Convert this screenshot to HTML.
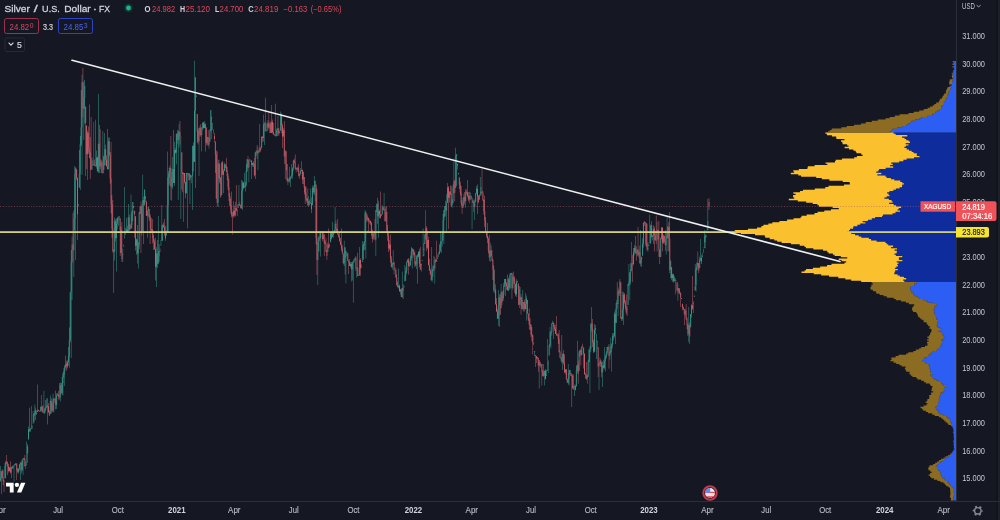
<!DOCTYPE html>
<html><head><meta charset="utf-8"><style>
*{margin:0;padding:0;box-sizing:border-box}
html,body{width:1000px;height:520px;overflow:hidden;background:#151823}
body{position:relative;font-family:"Liberation Sans",Arial,sans-serif}
svg{position:absolute;left:0;top:0}
</style></head><body>
<svg width="1000" height="520" viewBox="0 0 1000 520" font-family="&quot;Liberation Sans&quot;, Arial, sans-serif">
<rect x="996.3" y="0" width="1.6" height="520" fill="#111319"/>
<rect x="997.9" y="0" width="2.1" height="520" fill="#1d2029"/>
<rect x="956" y="0" width="1" height="501" fill="#2a2e39"/>
<rect x="0" y="501" width="1000" height="1" fill="#2a2e39"/>
<g opacity="0.9">
<path fill="#3aa596" d="M0.15 466.0h0.5V481.7h-0.5z M-0.10 477.9h1.0V480.7h-1.0z M1.06 470.7h0.5V494.0h-0.5z M0.81 471.3h1.0V477.9h-1.0z M4.69 463.0h0.5V478.5h-0.5z M4.44 465.9h1.0V478.5h-1.0z M5.59 460.9h0.5V478.0h-0.5z M5.34 461.5h1.0V465.9h-1.0z M9.22 466.7h0.5V471.4h-0.5z M8.97 467.4h1.0V471.1h-1.0z M11.03 467.2h0.5V478.0h-0.5z M10.78 468.2h1.0V472.5h-1.0z M11.94 465.7h0.5V469.0h-0.5z M11.69 466.2h1.0V468.2h-1.0z M12.85 465.9h0.5V468.6h-0.5z M12.60 465.9h1.0V466.5h-1.0z M13.76 465.0h0.5V481.5h-0.5z M13.51 465.0h1.0V465.9h-1.0z M14.66 464.1h0.5V465.1h-0.5z M14.41 464.1h1.0V465.0h-1.0z M15.57 463.0h0.5V465.4h-0.5z M15.32 463.2h1.0V464.1h-1.0z M18.29 468.1h0.5V474.1h-0.5z M18.04 468.9h1.0V471.7h-1.0z M19.20 463.9h0.5V471.3h-0.5z M18.95 464.4h1.0V468.9h-1.0z M20.10 462.5h0.5V480.0h-0.5z M19.85 462.5h1.0V464.4h-1.0z M21.92 459.7h0.5V471.3h-0.5z M21.67 459.7h1.0V470.0h-1.0z M22.82 458.2h0.5V475.0h-0.5z M22.57 458.2h1.0V459.7h-1.0z M25.55 461.3h0.5V469.0h-0.5z M25.30 464.5h1.0V465.9h-1.0z M26.45 441.5h0.5V463.9h-0.5z M26.20 463.9h1.0V464.5h-1.0z M27.36 444.0h0.5V463.0h-0.5z M27.11 446.2h1.0V453.5h-1.0z M28.27 426.4h0.5V439.5h-0.5z M28.02 429.3h1.0V439.5h-1.0z M30.08 427.7h0.5V432.0h-0.5z M29.83 429.5h1.0V430.1h-1.0z M30.99 406.0h0.5V428.3h-0.5z M30.74 428.3h1.0V428.9h-1.0z M31.90 425.5h0.5V429.0h-0.5z M31.65 425.6h1.0V426.2h-1.0z M32.80 411.0h0.5V422.9h-0.5z M32.55 422.9h1.0V423.5h-1.0z M33.71 413.6h0.5V423.0h-0.5z M33.46 413.8h1.0V421.6h-1.0z M34.62 404.6h0.5V415.7h-0.5z M34.37 410.4h1.0V413.8h-1.0z M36.43 410.3h0.5V414.8h-0.5z M36.18 413.2h1.0V413.9h-1.0z M37.34 384.6h0.5V412.1h-0.5z M37.09 410.3h1.0V412.1h-1.0z M39.15 410.8h0.5V410.8h-0.5z M38.90 410.8h1.0V411.4h-1.0z M40.06 406.4h0.5V410.8h-0.5z M39.81 410.8h1.0V411.4h-1.0z M40.96 395.0h0.5V410.8h-0.5z M40.71 406.7h1.0V410.8h-1.0z M43.69 390.8h0.5V413.5h-0.5z M43.44 412.7h1.0V413.3h-1.0z M44.59 407.8h0.5V413.8h-0.5z M44.34 409.7h1.0V412.7h-1.0z M45.50 400.1h0.5V410.8h-0.5z M45.25 407.3h1.0V409.7h-1.0z M46.41 398.5h0.5V408.0h-0.5z M46.16 405.6h1.0V407.3h-1.0z M50.04 395.4h0.5V413.7h-0.5z M49.79 400.7h1.0V413.7h-1.0z M52.76 393.8h0.5V412.3h-0.5z M52.51 399.5h1.0V410.6h-1.0z M53.66 398.2h0.5V412.3h-0.5z M53.41 398.6h1.0V399.5h-1.0z M56.38 393.2h0.5V409.0h-0.5z M56.13 395.2h1.0V405.0h-1.0z M57.29 392.9h0.5V395.7h-0.5z M57.04 394.4h1.0V395.2h-1.0z M60.01 382.4h0.5V401.5h-0.5z M59.76 385.2h1.0V397.1h-1.0z M61.83 377.0h0.5V395.0h-0.5z M61.58 383.1h1.0V393.2h-1.0z M62.73 372.4h0.5V395.4h-0.5z M62.48 374.3h1.0V383.1h-1.0z M63.64 367.7h0.5V377.4h-0.5z M63.39 370.9h1.0V374.3h-1.0z M64.55 365.0h0.5V386.0h-0.5z M64.30 366.3h1.0V370.9h-1.0z M65.45 355.4h0.5V368.2h-0.5z M65.20 363.7h1.0V366.3h-1.0z M67.27 360.2h0.5V368.4h-0.5z M67.02 361.9h1.0V366.4h-1.0z M68.18 347.0h0.5V365.6h-0.5z M67.93 355.9h1.0V361.9h-1.0z M69.08 327.5h0.5V367.7h-0.5z M68.83 340.1h1.0V355.9h-1.0z M69.99 292.0h0.5V342.2h-0.5z M69.74 292.0h1.0V340.1h-1.0z M70.90 250.0h0.5V358.0h-0.5z M70.65 261.8h1.0V292.0h-1.0z M71.80 236.4h0.5V300.0h-0.5z M71.55 244.6h1.0V261.8h-1.0z M73.62 210.5h0.5V277.0h-0.5z M73.37 218.7h1.0V250.3h-1.0z M74.52 166.0h0.5V230.3h-0.5z M74.27 174.2h1.0V218.7h-1.0z M75.43 167.4h0.5V260.0h-0.5z M75.18 167.4h1.0V174.2h-1.0z M78.15 203.8h0.5V204.9h-0.5z M77.90 204.9h1.0V205.5h-1.0z M79.06 150.0h0.5V187.7h-0.5z M78.81 173.5h1.0V187.7h-1.0z M79.97 136.1h0.5V190.0h-0.5z M79.72 144.3h1.0V173.5h-1.0z M80.87 90.0h0.5V146.0h-0.5z M80.62 127.6h1.0V144.3h-1.0z M81.78 74.7h0.5V175.0h-0.5z M81.53 82.3h1.0V127.6h-1.0z M83.59 81.8h0.5V140.0h-0.5z M83.34 98.0h1.0V108.8h-1.0z M84.50 80.0h0.5V123.7h-0.5z M84.25 85.8h1.0V98.0h-1.0z M87.22 130.5h0.5V180.0h-0.5z M86.97 132.7h1.0V154.3h-1.0z M91.76 157.3h0.5V170.0h-0.5z M91.51 167.6h1.0V168.2h-1.0z M92.66 160.4h0.5V165.4h-0.5z M92.41 165.4h1.0V166.0h-1.0z M93.57 122.0h0.5V164.5h-0.5z M93.32 164.5h1.0V165.1h-1.0z M95.39 119.7h0.5V166.2h-0.5z M95.14 165.9h1.0V166.5h-1.0z M96.29 150.5h0.5V168.4h-0.5z M96.04 157.4h1.0V165.9h-1.0z M98.11 94.0h0.5V173.0h-0.5z M97.86 143.8h1.0V171.6h-1.0z M100.83 159.5h0.5V173.0h-0.5z M100.58 162.2h1.0V166.5h-1.0z M102.64 131.0h0.5V173.0h-0.5z M102.39 173.0h1.0V173.6h-1.0z M103.55 155.6h0.5V173.0h-0.5z M103.30 157.0h1.0V169.8h-1.0z M104.46 133.0h0.5V165.5h-0.5z M104.21 149.2h1.0V157.0h-1.0z M108.08 137.6h0.5V169.5h-0.5z M107.83 141.2h1.0V169.2h-1.0z M114.43 217.5h0.5V260.6h-0.5z M114.18 221.0h1.0V251.7h-1.0z M116.25 218.5h0.5V271.5h-0.5z M116.00 223.4h1.0V238.1h-1.0z M117.15 217.6h0.5V229.5h-0.5z M116.90 217.6h1.0V223.4h-1.0z M118.06 216.7h0.5V225.7h-0.5z M117.81 216.7h1.0V217.6h-1.0z M118.97 216.0h0.5V220.4h-0.5z M118.72 216.5h1.0V217.1h-1.0z M122.60 248.8h0.5V262.0h-0.5z M122.35 254.3h1.0V254.9h-1.0z M123.50 244.4h0.5V246.0h-0.5z M123.25 246.0h1.0V246.6h-1.0z M124.41 187.0h0.5V237.7h-0.5z M124.16 237.7h1.0V238.3h-1.0z M125.32 227.5h0.5V234.6h-0.5z M125.07 234.0h1.0V234.6h-1.0z M126.22 217.7h0.5V233.1h-0.5z M125.97 229.5h1.0V233.1h-1.0z M128.04 204.0h0.5V231.2h-0.5z M127.79 217.2h1.0V231.2h-1.0z M130.76 194.6h0.5V228.5h-0.5z M130.51 224.9h1.0V228.5h-1.0z M131.67 210.9h0.5V228.5h-0.5z M131.42 213.4h1.0V224.9h-1.0z M132.57 202.1h0.5V221.1h-0.5z M132.32 202.1h1.0V213.4h-1.0z M133.48 205.9h0.5V208.0h-0.5z M133.23 205.9h1.0V206.5h-1.0z M136.20 238.7h0.5V254.7h-0.5z M135.95 239.6h1.0V245.7h-1.0z M138.01 242.3h0.5V268.5h-0.5z M137.76 245.7h1.0V253.6h-1.0z M138.92 212.0h0.5V249.1h-0.5z M138.67 212.7h1.0V245.7h-1.0z M139.83 206.2h0.5V214.1h-0.5z M139.58 206.2h1.0V212.7h-1.0z M142.55 174.6h0.5V232.4h-0.5z M142.30 200.1h1.0V231.7h-1.0z M144.36 189.4h0.5V205.7h-0.5z M144.11 189.6h1.0V204.5h-1.0z M147.08 210.5h0.5V237.7h-0.5z M146.83 211.2h1.0V215.7h-1.0z M147.99 206.7h0.5V217.6h-0.5z M147.74 206.7h1.0V211.2h-1.0z M156.15 247.2h0.5V287.0h-0.5z M155.90 253.5h1.0V266.7h-1.0z M157.97 216.0h0.5V264.3h-0.5z M157.72 256.3h1.0V263.8h-1.0z M158.88 244.2h0.5V262.0h-0.5z M158.62 250.9h1.0V256.3h-1.0z M160.69 239.9h0.5V244.8h-0.5z M160.44 244.8h1.0V245.4h-1.0z M161.60 205.0h0.5V240.8h-0.5z M161.35 225.4h1.0V240.8h-1.0z M162.50 224.6h0.5V240.8h-0.5z M162.25 224.7h1.0V225.4h-1.0z M166.13 230.5h0.5V235.5h-0.5z M165.88 233.3h1.0V235.5h-1.0z M167.04 151.5h0.5V232.7h-0.5z M166.79 205.3h1.0V232.7h-1.0z M167.95 170.9h0.5V231.5h-0.5z M167.70 177.6h1.0V205.3h-1.0z M168.85 167.6h0.5V184.7h-0.5z M168.60 173.6h1.0V177.6h-1.0z M169.76 165.4h0.5V186.1h-0.5z M169.51 167.9h1.0V173.6h-1.0z M171.57 171.8h0.5V200.8h-0.5z M171.32 177.5h1.0V186.7h-1.0z M172.48 157.1h0.5V188.7h-0.5z M172.23 169.0h1.0V177.5h-1.0z M174.29 142.1h0.5V186.1h-0.5z M174.04 150.0h1.0V183.0h-1.0z M176.11 133.6h0.5V164.3h-0.5z M175.86 133.7h1.0V152.8h-1.0z M177.92 130.6h0.5V200.0h-0.5z M177.67 139.4h1.0V140.0h-1.0z M178.83 123.8h0.5V147.6h-0.5z M178.58 131.7h1.0V139.4h-1.0z M180.64 136.5h0.5V219.0h-0.5z M180.39 136.5h1.0V137.1h-1.0z M183.36 173.0h0.5V222.0h-0.5z M183.11 173.0h1.0V174.2h-1.0z M186.09 173.0h0.5V193.3h-0.5z M185.84 173.0h1.0V193.2h-1.0z M186.99 173.0h0.5V228.5h-0.5z M186.74 173.0h1.0V173.6h-1.0z M187.90 173.0h0.5V176.4h-0.5z M187.65 173.0h1.0V173.6h-1.0z M189.71 174.0h0.5V204.0h-0.5z M189.46 174.0h1.0V180.0h-1.0z M190.62 174.9h0.5V177.8h-0.5z M190.37 174.9h1.0V175.5h-1.0z M191.53 175.8h0.5V183.3h-0.5z M191.28 175.8h1.0V176.4h-1.0z M192.43 145.7h0.5V210.0h-0.5z M192.18 145.7h1.0V175.8h-1.0z M194.25 60.8h0.5V161.9h-0.5z M194.00 110.7h1.0V161.8h-1.0z M195.16 77.2h0.5V188.0h-0.5z M194.91 77.2h1.0V110.7h-1.0z M196.06 95.6h0.5V97.0h-0.5z M195.81 95.6h1.0V96.2h-1.0z M198.78 127.9h0.5V176.0h-0.5z M198.53 127.9h1.0V141.4h-1.0z M201.50 127.0h0.5V151.5h-0.5z M201.25 128.8h1.0V135.1h-1.0z M202.41 122.6h0.5V129.8h-0.5z M202.16 122.6h1.0V128.8h-1.0z M204.23 121.0h0.5V128.3h-0.5z M203.98 124.3h1.0V127.9h-1.0z M206.95 136.7h0.5V144.6h-0.5z M206.70 136.9h1.0V142.7h-1.0z M208.76 137.5h0.5V148.5h-0.5z M208.51 141.6h1.0V144.5h-1.0z M209.67 129.2h0.5V141.7h-0.5z M209.42 130.4h1.0V141.6h-1.0z M210.57 110.0h0.5V131.3h-0.5z M210.32 110.2h1.0V130.4h-1.0z M211.48 116.7h0.5V139.0h-0.5z M211.23 116.7h1.0V117.3h-1.0z M212.39 123.2h0.5V129.9h-0.5z M212.14 123.2h1.0V123.8h-1.0z M213.30 129.7h0.5V133.6h-0.5z M213.05 129.7h1.0V130.3h-1.0z M217.83 159.7h0.5V207.0h-0.5z M217.58 163.2h1.0V202.7h-1.0z M221.46 162.2h0.5V195.0h-0.5z M221.21 162.2h1.0V195.0h-1.0z M223.27 169.3h0.5V193.0h-0.5z M223.02 171.1h1.0V174.8h-1.0z M224.18 162.5h0.5V171.3h-0.5z M223.93 164.5h1.0V171.1h-1.0z M233.25 201.2h0.5V217.8h-0.5z M233.00 211.1h1.0V215.8h-1.0z M235.06 201.8h0.5V216.5h-0.5z M234.81 208.1h1.0V215.2h-1.0z M237.78 204.1h0.5V207.9h-0.5z M237.53 204.4h1.0V207.9h-1.0z M238.69 185.0h0.5V204.2h-0.5z M238.44 204.2h1.0V204.8h-1.0z M241.41 180.0h0.5V209.0h-0.5z M241.16 190.8h1.0V208.2h-1.0z M242.32 180.7h0.5V210.0h-0.5z M242.07 182.4h1.0V190.8h-1.0z M244.13 173.0h0.5V187.8h-0.5z M243.88 187.1h1.0V187.8h-1.0z M245.04 181.7h0.5V191.5h-0.5z M244.79 184.7h1.0V187.1h-1.0z M245.95 164.2h0.5V186.6h-0.5z M245.70 170.8h1.0V184.7h-1.0z M246.85 159.3h0.5V172.0h-0.5z M246.60 159.3h1.0V170.8h-1.0z M248.67 160.2h0.5V182.0h-0.5z M248.42 160.5h1.0V167.4h-1.0z M249.58 159.3h0.5V160.5h-0.5z M249.33 159.3h1.0V160.5h-1.0z M250.48 160.7h0.5V161.7h-0.5z M250.23 160.7h1.0V161.3h-1.0z M252.30 163.0h0.5V166.7h-0.5z M252.05 163.1h1.0V165.1h-1.0z M255.02 152.3h0.5V179.0h-0.5z M254.77 152.3h1.0V175.2h-1.0z M255.92 149.7h0.5V156.2h-0.5z M255.67 151.2h1.0V152.3h-1.0z M257.74 147.0h0.5V170.0h-0.5z M257.49 150.7h1.0V153.4h-1.0z M259.55 124.0h0.5V152.4h-0.5z M259.30 148.0h1.0V151.6h-1.0z M261.37 136.4h0.5V148.0h-0.5z M261.12 136.8h1.0V148.0h-1.0z M263.18 114.6h0.5V141.4h-0.5z M262.93 124.6h1.0V137.9h-1.0z M264.09 121.7h0.5V145.0h-0.5z M263.84 123.6h1.0V124.6h-1.0z M265.90 130.4h0.5V130.7h-0.5z M265.65 130.7h1.0V131.3h-1.0z M266.81 122.5h0.5V131.6h-0.5z M266.56 123.3h1.0V130.7h-1.0z M269.53 122.4h0.5V133.0h-0.5z M269.28 123.4h1.0V127.4h-1.0z M271.34 105.0h0.5V133.0h-0.5z M271.09 121.9h1.0V132.9h-1.0z M275.88 130.3h0.5V136.0h-0.5z M275.63 136.0h1.0V136.6h-1.0z M276.78 128.2h0.5V136.0h-0.5z M276.53 128.6h1.0V136.0h-1.0z M279.51 131.3h0.5V132.5h-0.5z M279.26 132.5h1.0V133.1h-1.0z M280.41 111.5h0.5V130.7h-0.5z M280.16 114.8h1.0V130.7h-1.0z M283.13 128.1h0.5V136.7h-0.5z M282.88 130.1h1.0V136.5h-1.0z M284.95 149.9h0.5V179.0h-0.5z M284.70 151.3h1.0V156.4h-1.0z M288.58 178.4h0.5V182.3h-0.5z M288.33 179.7h1.0V181.0h-1.0z M289.48 167.0h0.5V182.7h-0.5z M289.23 176.9h1.0V179.7h-1.0z M290.39 176.6h0.5V187.0h-0.5z M290.14 176.6h1.0V177.2h-1.0z M291.30 164.0h0.5V178.6h-0.5z M291.05 175.3h1.0V176.6h-1.0z M292.20 167.4h0.5V179.0h-0.5z M291.95 168.5h1.0V175.3h-1.0z M293.11 159.7h0.5V170.9h-0.5z M292.86 160.5h1.0V168.5h-1.0z M296.74 167.4h0.5V170.2h-0.5z M296.49 167.7h1.0V169.3h-1.0z M299.46 173.3h0.5V179.0h-0.5z M299.21 173.7h1.0V175.9h-1.0z M300.37 168.0h0.5V174.3h-0.5z M300.12 171.1h1.0V173.7h-1.0z M301.27 161.0h0.5V171.2h-0.5z M301.02 169.9h1.0V171.1h-1.0z M303.09 171.7h0.5V184.0h-0.5z M302.84 171.7h1.0V179.4h-1.0z M308.53 195.9h0.5V207.0h-0.5z M308.28 201.5h1.0V205.3h-1.0z M310.34 188.5h0.5V203.7h-0.5z M310.09 203.2h1.0V203.8h-1.0z M312.16 185.5h0.5V205.3h-0.5z M311.91 187.9h1.0V205.3h-1.0z M313.97 176.0h0.5V195.1h-0.5z M313.72 186.5h1.0V192.2h-1.0z M314.88 180.7h0.5V201.4h-0.5z M314.63 180.7h1.0V186.5h-1.0z M317.60 241.5h0.5V285.0h-0.5z M317.35 251.4h1.0V260.0h-1.0z M318.51 236.1h0.5V251.5h-0.5z M318.26 237.6h1.0V251.4h-1.0z M320.32 231.5h0.5V256.5h-0.5z M320.07 231.5h1.0V238.3h-1.0z M321.23 231.5h0.5V231.7h-0.5z M320.98 231.5h1.0V232.1h-1.0z M323.04 231.5h0.5V239.4h-0.5z M322.79 235.1h1.0V239.0h-1.0z M327.58 242.5h0.5V252.1h-0.5z M327.33 244.4h1.0V252.1h-1.0z M329.39 243.3h0.5V247.0h-0.5z M329.14 245.0h1.0V245.6h-1.0z M330.30 231.9h0.5V242.2h-0.5z M330.05 233.2h1.0V242.2h-1.0z M332.11 222.0h0.5V237.0h-0.5z M331.86 232.2h1.0V237.0h-1.0z M333.93 230.1h0.5V233.2h-0.5z M333.68 233.2h1.0V233.8h-1.0z M334.83 207.0h0.5V231.6h-0.5z M334.58 223.8h1.0V231.6h-1.0z M343.90 240.8h0.5V265.9h-0.5z M343.65 258.3h1.0V263.2h-1.0z M344.81 247.3h0.5V274.6h-0.5z M344.56 247.3h1.0V258.3h-1.0z M345.72 250.7h0.5V283.5h-0.5z M345.47 250.7h1.0V251.3h-1.0z M346.62 252.0h0.5V256.5h-0.5z M346.37 252.0h1.0V252.6h-1.0z M350.25 262.0h0.5V267.4h-0.5z M350.00 264.1h1.0V266.0h-1.0z M352.07 262.0h0.5V280.5h-0.5z M351.82 262.0h1.0V269.3h-1.0z M352.97 260.8h0.5V302.7h-0.5z M352.72 260.8h1.0V262.0h-1.0z M353.88 259.2h0.5V263.1h-0.5z M353.63 259.2h1.0V260.8h-1.0z M354.79 257.7h0.5V260.3h-0.5z M354.54 257.7h1.0V259.2h-1.0z M356.60 267.3h0.5V277.7h-0.5z M356.35 267.8h1.0V268.4h-1.0z M358.41 274.8h0.5V275.8h-0.5z M358.16 275.0h1.0V275.8h-1.0z M359.32 247.0h0.5V275.8h-0.5z M359.07 260.0h1.0V275.0h-1.0z M361.14 264.5h0.5V267.0h-0.5z M360.89 267.0h1.0V267.6h-1.0z M362.04 241.0h0.5V261.3h-0.5z M361.79 261.3h1.0V261.9h-1.0z M362.95 243.7h0.5V260.0h-0.5z M362.70 245.4h1.0V259.6h-1.0z M363.86 241.2h0.5V250.2h-0.5z M363.61 242.0h1.0V245.4h-1.0z M364.76 210.0h0.5V250.1h-0.5z M364.51 212.9h1.0V242.0h-1.0z M365.67 211.8h0.5V258.5h-0.5z M365.42 211.8h1.0V212.9h-1.0z M367.49 216.0h0.5V221.3h-0.5z M367.24 218.1h1.0V219.6h-1.0z M369.30 219.6h0.5V223.7h-0.5z M369.05 220.9h1.0V221.5h-1.0z M372.93 233.4h0.5V239.8h-0.5z M372.68 233.9h1.0V238.8h-1.0z M373.83 231.1h0.5V236.2h-0.5z M373.58 232.2h1.0V233.9h-1.0z M375.65 210.1h0.5V256.0h-0.5z M375.40 210.1h1.0V239.5h-1.0z M376.56 203.8h0.5V212.3h-0.5z M376.31 203.8h1.0V210.1h-1.0z M378.37 200.7h0.5V237.7h-0.5z M378.12 210.9h1.0V216.4h-1.0z M381.09 213.9h0.5V216.0h-0.5z M380.84 215.5h1.0V216.1h-1.0z M382.00 205.3h0.5V214.6h-0.5z M381.75 207.2h1.0V214.6h-1.0z M383.81 193.0h0.5V210.3h-0.5z M383.56 209.3h1.0V209.9h-1.0z M385.62 207.2h0.5V221.3h-0.5z M385.38 212.1h1.0V220.9h-1.0z M389.25 239.7h0.5V250.2h-0.5z M389.00 244.5h1.0V248.4h-1.0z M391.97 262.9h0.5V269.4h-0.5z M391.72 263.9h1.0V267.0h-1.0z M392.88 250.0h0.5V264.8h-0.5z M392.63 262.3h1.0V263.9h-1.0z M394.69 269.5h0.5V270.7h-0.5z M394.44 269.7h1.0V270.3h-1.0z M398.32 268.5h0.5V288.4h-0.5z M398.07 285.8h1.0V287.2h-1.0z M400.14 289.1h0.5V294.2h-0.5z M399.89 289.6h1.0V291.4h-1.0z M401.95 271.5h0.5V297.8h-0.5z M401.70 288.0h1.0V296.9h-1.0z M403.76 285.4h0.5V286.8h-0.5z M403.51 286.8h1.0V287.4h-1.0z M404.67 265.0h0.5V281.3h-0.5z M404.42 275.4h1.0V281.3h-1.0z M405.58 267.2h0.5V280.8h-0.5z M405.33 271.0h1.0V275.4h-1.0z M406.49 261.5h0.5V273.3h-0.5z M406.24 261.5h1.0V271.0h-1.0z M407.39 259.0h0.5V262.5h-0.5z M407.14 259.7h1.0V261.5h-1.0z M409.21 261.4h0.5V267.0h-0.5z M408.96 264.9h1.0V265.8h-1.0z M410.11 255.7h0.5V266.1h-0.5z M409.86 258.1h1.0V264.9h-1.0z M411.02 247.0h0.5V260.7h-0.5z M410.77 251.6h1.0V258.1h-1.0z M411.93 248.2h0.5V268.5h-0.5z M411.68 248.2h1.0V251.6h-1.0z M416.46 255.4h0.5V269.0h-0.5z M416.21 255.4h1.0V264.5h-1.0z M418.28 251.4h0.5V257.8h-0.5z M418.03 251.4h1.0V256.6h-1.0z M421.00 263.6h0.5V271.5h-0.5z M420.75 264.1h1.0V265.1h-1.0z M421.90 260.1h0.5V260.4h-0.5z M421.65 260.4h1.0V261.0h-1.0z M422.81 228.5h0.5V255.6h-0.5z M422.56 255.6h1.0V256.2h-1.0z M423.72 243.1h0.5V256.0h-0.5z M423.47 248.7h1.0V249.9h-1.0z M424.63 233.8h0.5V244.1h-0.5z M424.38 235.1h1.0V244.1h-1.0z M425.53 210.0h0.5V239.5h-0.5z M425.28 227.9h1.0V235.1h-1.0z M427.35 231.5h0.5V249.2h-0.5z M427.10 240.0h1.0V247.8h-1.0z M431.88 268.8h0.5V281.9h-0.5z M431.63 270.9h1.0V280.1h-1.0z M432.79 264.8h0.5V276.6h-0.5z M432.54 265.9h1.0V270.9h-1.0z M434.60 257.2h0.5V283.8h-0.5z M434.35 260.4h1.0V268.5h-1.0z M435.51 258.7h0.5V262.6h-0.5z M435.26 260.1h1.0V260.7h-1.0z M437.32 254.6h0.5V259.0h-0.5z M437.07 257.9h1.0V258.5h-1.0z M438.23 252.6h0.5V256.0h-0.5z M437.98 256.0h1.0V256.6h-1.0z M439.14 244.6h0.5V254.2h-0.5z M438.89 250.8h1.0V254.2h-1.0z M440.05 231.5h0.5V252.0h-0.5z M439.80 243.5h1.0V250.8h-1.0z M440.95 241.2h0.5V253.0h-0.5z M440.70 241.7h1.0V243.5h-1.0z M441.86 232.5h0.5V246.5h-0.5z M441.61 234.0h1.0V241.7h-1.0z M442.77 214.0h0.5V240.6h-0.5z M442.52 220.2h1.0V234.0h-1.0z M443.67 209.9h0.5V244.0h-0.5z M443.42 209.9h1.0V220.2h-1.0z M444.58 205.9h0.5V216.7h-0.5z M444.33 205.9h1.0V209.9h-1.0z M446.39 194.3h0.5V231.5h-0.5z M446.14 202.7h1.0V210.7h-1.0z M447.30 183.0h0.5V203.0h-0.5z M447.05 187.5h1.0V202.7h-1.0z M449.12 191.2h0.5V202.4h-0.5z M448.87 191.6h1.0V197.7h-1.0z M451.84 199.3h0.5V207.7h-0.5z M451.59 202.9h1.0V205.0h-1.0z M452.74 184.5h0.5V203.2h-0.5z M452.49 187.8h1.0V202.9h-1.0z M453.65 158.5h0.5V193.4h-0.5z M453.40 180.9h1.0V187.8h-1.0z M455.46 147.7h0.5V188.0h-0.5z M455.21 155.7h1.0V188.0h-1.0z M456.37 154.2h0.5V186.0h-0.5z M456.12 154.2h1.0V155.7h-1.0z M458.19 173.1h0.5V174.6h-0.5z M457.94 173.1h1.0V173.7h-1.0z M462.72 197.5h0.5V208.0h-0.5z M462.47 204.8h1.0V207.7h-1.0z M463.63 193.7h0.5V205.7h-0.5z M463.38 197.0h1.0V204.8h-1.0z M465.44 189.0h0.5V207.7h-0.5z M465.19 191.7h1.0V201.3h-1.0z M469.07 191.7h0.5V203.4h-0.5z M468.82 196.6h1.0V199.5h-1.0z M469.98 192.5h0.5V200.2h-0.5z M469.73 196.3h1.0V196.9h-1.0z M471.79 197.8h0.5V229.0h-0.5z M471.54 197.8h1.0V198.4h-1.0z M474.51 199.4h0.5V220.0h-0.5z M474.26 201.4h1.0V207.1h-1.0z M475.42 192.9h0.5V202.3h-0.5z M475.17 192.9h1.0V201.4h-1.0z M476.32 186.0h0.5V194.3h-0.5z M476.07 188.7h1.0V192.9h-1.0z M479.05 194.5h0.5V199.8h-0.5z M478.80 195.7h1.0V199.8h-1.0z M479.95 177.0h0.5V195.1h-0.5z M479.70 195.1h1.0V195.7h-1.0z M480.86 186.9h0.5V195.4h-0.5z M480.61 191.8h1.0V193.8h-1.0z M489.93 243.0h0.5V262.0h-0.5z M489.68 250.6h1.0V257.5h-1.0z M494.46 270.0h0.5V293.3h-0.5z M494.21 289.5h1.0V290.1h-1.0z M498.09 290.0h0.5V325.8h-0.5z M497.84 305.7h1.0V318.8h-1.0z M499.00 294.5h0.5V327.0h-0.5z M498.75 297.5h1.0V305.7h-1.0z M500.81 284.0h0.5V308.2h-0.5z M500.56 291.9h1.0V308.2h-1.0z M502.63 290.4h0.5V301.0h-0.5z M502.38 294.7h1.0V301.0h-1.0z M503.53 283.1h0.5V298.4h-0.5z M503.28 285.4h1.0V294.7h-1.0z M504.44 278.9h0.5V287.0h-0.5z M504.19 278.9h1.0V285.4h-1.0z M508.07 277.7h0.5V291.3h-0.5z M507.82 279.2h1.0V290.6h-1.0z M509.88 273.3h0.5V288.8h-0.5z M509.63 273.3h1.0V287.8h-1.0z M510.79 272.9h0.5V274.9h-0.5z M510.54 272.9h1.0V273.5h-1.0z M512.61 274.6h0.5V289.7h-0.5z M512.36 277.2h1.0V287.9h-1.0z M516.23 279.2h0.5V296.9h-0.5z M515.98 281.9h1.0V294.3h-1.0z M517.14 280.8h0.5V282.5h-0.5z M516.89 281.6h1.0V282.2h-1.0z M519.86 287.0h0.5V305.4h-0.5z M519.61 296.8h1.0V304.8h-1.0z M522.58 290.0h0.5V310.0h-0.5z M522.33 302.2h1.0V308.7h-1.0z M523.49 301.9h0.5V311.5h-0.5z M523.24 302.0h1.0V302.6h-1.0z M525.30 293.0h0.5V309.6h-0.5z M525.05 303.8h1.0V309.0h-1.0z M526.21 295.4h0.5V320.8h-0.5z M525.96 298.3h1.0V303.8h-1.0z M533.47 342.8h0.5V344.9h-0.5z M533.22 342.8h1.0V343.4h-1.0z M534.37 351.1h0.5V356.3h-0.5z M534.12 351.1h1.0V351.7h-1.0z M535.28 355.1h0.5V367.0h-0.5z M535.03 355.1h1.0V355.7h-1.0z M537.09 357.0h0.5V359.4h-0.5z M536.84 357.0h1.0V358.5h-1.0z M538.91 360.1h0.5V388.5h-0.5z M538.66 360.1h1.0V365.4h-1.0z M540.72 363.9h0.5V368.0h-0.5z M540.47 363.9h1.0V365.7h-1.0z M544.35 370.4h0.5V385.4h-0.5z M544.10 370.8h1.0V375.8h-1.0z M546.16 370.1h0.5V375.4h-0.5z M545.91 375.4h1.0V376.0h-1.0z M547.07 339.0h0.5V370.4h-0.5z M546.82 370.4h1.0V371.0h-1.0z M547.98 360.3h0.5V373.0h-0.5z M547.73 363.0h1.0V363.6h-1.0z M548.88 344.6h0.5V355.6h-0.5z M548.63 345.4h1.0V355.6h-1.0z M549.79 327.0h0.5V346.5h-0.5z M549.54 332.2h1.0V345.4h-1.0z M550.70 330.9h0.5V348.5h-0.5z M550.45 331.8h1.0V332.4h-1.0z M551.61 323.2h0.5V335.5h-0.5z M551.36 323.2h1.0V331.8h-1.0z M552.51 320.8h0.5V324.1h-0.5z M552.26 323.0h1.0V323.6h-1.0z M557.05 333.2h0.5V335.7h-0.5z M556.80 335.0h1.0V335.6h-1.0z M560.68 357.1h0.5V360.8h-0.5z M560.43 357.6h1.0V358.2h-1.0z M562.49 353.5h0.5V370.0h-0.5z M562.24 353.7h1.0V361.7h-1.0z M565.21 368.9h0.5V374.6h-0.5z M564.96 369.5h1.0V372.3h-1.0z M567.93 364.0h0.5V384.5h-0.5z M567.68 378.6h1.0V382.7h-1.0z M568.84 369.8h0.5V385.4h-0.5z M568.59 373.0h1.0V378.6h-1.0z M569.75 370.0h0.5V374.2h-0.5z M569.50 370.0h1.0V373.0h-1.0z M573.37 374.6h0.5V390.0h-0.5z M573.12 386.6h1.0V388.3h-1.0z M574.28 384.5h0.5V396.0h-0.5z M574.03 386.2h1.0V386.8h-1.0z M576.10 365.8h0.5V386.5h-0.5z M575.85 370.3h1.0V386.5h-1.0z M577.00 340.8h0.5V372.3h-0.5z M576.75 364.8h1.0V370.3h-1.0z M578.82 350.7h0.5V371.1h-0.5z M578.57 352.6h1.0V371.1h-1.0z M579.72 349.9h0.5V356.2h-0.5z M579.47 349.9h1.0V352.6h-1.0z M581.54 346.3h0.5V355.4h-0.5z M581.29 346.5h1.0V354.9h-1.0z M586.98 374.7h0.5V383.8h-0.5z M586.73 376.4h1.0V378.4h-1.0z M587.89 359.7h0.5V377.0h-0.5z M587.64 361.8h1.0V376.4h-1.0z M588.79 349.4h0.5V362.3h-0.5z M588.54 349.4h1.0V361.8h-1.0z M589.70 346.1h0.5V393.0h-0.5z M589.45 348.4h1.0V349.4h-1.0z M590.61 323.4h0.5V352.3h-0.5z M590.36 323.4h1.0V348.4h-1.0z M594.24 324.0h0.5V352.2h-0.5z M593.99 330.1h1.0V351.5h-1.0z M595.14 325.0h0.5V333.9h-0.5z M594.89 328.3h1.0V330.1h-1.0z M596.05 334.3h0.5V359.0h-0.5z M595.80 334.3h1.0V334.9h-1.0z M596.96 340.8h0.5V348.8h-0.5z M596.71 340.8h1.0V341.4h-1.0z M598.77 363.2h0.5V390.0h-0.5z M598.52 363.2h1.0V366.5h-1.0z M599.68 357.6h0.5V364.6h-0.5z M599.43 360.4h1.0V363.2h-1.0z M602.40 361.5h0.5V387.0h-0.5z M602.15 365.4h1.0V372.2h-1.0z M604.21 347.0h0.5V369.6h-0.5z M603.96 361.1h1.0V367.8h-1.0z M605.12 355.0h0.5V371.5h-0.5z M604.87 357.1h1.0V361.1h-1.0z M606.03 351.3h0.5V358.5h-0.5z M605.78 352.8h1.0V357.1h-1.0z M606.93 347.0h0.5V354.8h-0.5z M606.68 347.0h1.0V352.8h-1.0z M607.84 345.8h0.5V350.8h-0.5z M607.59 346.9h1.0V347.5h-1.0z M609.65 351.2h0.5V359.7h-0.5z M609.40 351.7h1.0V355.7h-1.0z M610.56 337.7h0.5V353.2h-0.5z M610.31 345.3h1.0V351.7h-1.0z M611.47 343.2h0.5V371.5h-0.5z M611.22 344.3h1.0V345.3h-1.0z M612.38 333.0h0.5V348.5h-0.5z M612.12 335.8h1.0V344.3h-1.0z M614.19 311.5h0.5V337.9h-0.5z M613.94 313.8h1.0V336.1h-1.0z M616.00 300.2h0.5V323.0h-0.5z M615.75 303.1h1.0V322.8h-1.0z M617.82 287.5h0.5V316.0h-0.5z M617.57 291.3h1.0V304.0h-1.0z M619.63 279.0h0.5V296.1h-0.5z M619.38 281.1h1.0V293.3h-1.0z M622.35 291.5h0.5V320.5h-0.5z M622.10 309.6h1.0V319.0h-1.0z M623.26 292.1h0.5V325.0h-0.5z M623.01 294.4h1.0V309.6h-1.0z M626.89 305.7h0.5V316.0h-0.5z M626.64 309.2h1.0V309.9h-1.0z M627.79 283.8h0.5V305.1h-0.5z M627.54 284.1h1.0V305.1h-1.0z M628.70 264.0h0.5V286.0h-0.5z M628.45 281.7h1.0V284.1h-1.0z M629.61 272.3h0.5V300.0h-0.5z M629.36 272.6h1.0V281.7h-1.0z M630.51 262.9h0.5V284.4h-0.5z M630.26 269.0h1.0V272.6h-1.0z M631.42 242.0h0.5V271.1h-0.5z M631.17 263.6h1.0V269.0h-1.0z M633.24 247.9h0.5V265.3h-0.5z M632.99 252.0h1.0V264.1h-1.0z M634.14 245.1h0.5V255.3h-0.5z M633.89 247.8h1.0V252.0h-1.0z M636.86 248.8h0.5V256.0h-0.5z M636.61 250.0h1.0V253.3h-1.0z M638.68 249.0h0.5V257.7h-0.5z M638.43 252.1h1.0V255.0h-1.0z M640.49 230.0h0.5V266.2h-0.5z M640.24 259.6h1.0V263.4h-1.0z M641.40 256.7h0.5V267.0h-0.5z M641.15 256.8h1.0V259.6h-1.0z M642.31 238.2h0.5V255.8h-0.5z M642.06 243.7h1.0V255.8h-1.0z M643.21 222.4h0.5V247.6h-0.5z M642.96 222.4h1.0V243.7h-1.0z M645.03 222.1h0.5V245.4h-0.5z M644.78 222.1h1.0V223.2h-1.0z M647.75 242.2h0.5V251.5h-0.5z M647.50 248.3h1.0V248.9h-1.0z M648.65 244.6h0.5V245.5h-0.5z M648.40 245.5h1.0V246.1h-1.0z M649.56 214.6h0.5V242.6h-0.5z M649.31 242.6h1.0V243.2h-1.0z M650.47 224.4h0.5V243.9h-0.5z M650.22 225.5h1.0V242.6h-1.0z M652.28 235.3h0.5V240.3h-0.5z M652.03 235.4h1.0V236.7h-1.0z M653.19 225.3h0.5V243.9h-0.5z M652.94 228.8h1.0V235.4h-1.0z M656.82 221.9h0.5V251.5h-0.5z M656.57 230.4h1.0V240.3h-1.0z M660.45 237.5h0.5V256.9h-0.5z M660.20 238.8h1.0V256.9h-1.0z M661.35 227.0h0.5V239.3h-0.5z M661.10 227.6h1.0V238.8h-1.0z M663.17 234.4h0.5V244.0h-0.5z M662.92 235.8h1.0V242.8h-1.0z M665.89 233.0h0.5V254.6h-0.5z M665.64 238.1h1.0V245.0h-1.0z M666.79 216.0h0.5V238.6h-0.5z M666.54 236.2h1.0V238.1h-1.0z M667.70 225.9h0.5V251.5h-0.5z M667.45 227.0h1.0V236.2h-1.0z M670.42 259.9h0.5V278.3h-0.5z M670.17 261.2h1.0V269.9h-1.0z M672.24 273.5h0.5V282.0h-0.5z M671.99 274.5h1.0V278.0h-1.0z M674.05 276.0h0.5V281.7h-0.5z M673.80 279.5h1.0V281.0h-1.0z M674.96 278.4h0.5V294.6h-0.5z M674.71 278.4h1.0V279.5h-1.0z M675.87 280.2h0.5V280.3h-0.5z M675.62 280.2h1.0V280.8h-1.0z M677.68 284.0h0.5V300.8h-0.5z M677.43 288.1h1.0V290.4h-1.0z M684.93 309.0h0.5V316.1h-0.5z M684.68 310.7h1.0V314.2h-1.0z M688.56 307.0h0.5V341.9h-0.5z M688.31 325.4h1.0V334.1h-1.0z M690.38 314.0h0.5V327.2h-0.5z M690.13 314.1h1.0V327.2h-1.0z M691.28 304.3h0.5V317.4h-0.5z M691.03 305.2h1.0V314.1h-1.0z M693.10 301.2h0.5V313.0h-0.5z M692.85 303.3h1.0V303.9h-1.0z M694.00 295.2h0.5V296.8h-0.5z M693.75 296.5h1.0V297.1h-1.0z M694.91 264.0h0.5V290.5h-0.5z M694.66 286.0h1.0V290.5h-1.0z M695.82 266.7h0.5V291.5h-0.5z M695.57 269.7h1.0V284.9h-1.0z M696.73 262.2h0.5V270.4h-0.5z M696.48 263.1h1.0V269.7h-1.0z M699.45 256.7h0.5V267.9h-0.5z M699.20 259.3h1.0V267.9h-1.0z M700.35 239.0h0.5V261.2h-0.5z M700.10 258.1h1.0V259.3h-1.0z M702.17 252.9h0.5V256.7h-0.5z M701.92 256.7h1.0V257.3h-1.0z M703.08 248.8h0.5V252.0h-0.5z M702.83 252.0h1.0V252.6h-1.0z M703.98 230.0h0.5V247.3h-0.5z M703.73 247.3h1.0V247.9h-1.0z M704.89 234.0h0.5V248.5h-0.5z M704.64 236.2h1.0V242.5h-1.0z M705.80 234.7h0.5V237.7h-0.5z M705.55 235.4h1.0V236.2h-1.0z M706.70 229.6h0.5V232.9h-0.5z M706.45 232.3h1.0V232.9h-1.0z M707.61 199.0h0.5V230.0h-0.5z M707.36 221.1h1.0V230.0h-1.0z "/>
<path fill="#dc6470" d="M1.96 469.0h0.5V478.3h-0.5z M1.71 471.3h1.0V477.6h-1.0z M2.87 470.0h0.5V485.2h-0.5z M2.62 477.6h1.0V480.9h-1.0z M3.78 479.8h0.5V492.0h-0.5z M3.53 480.9h1.0V481.5h-1.0z M6.50 455.0h0.5V464.0h-0.5z M6.25 461.5h1.0V463.2h-1.0z M7.41 461.7h0.5V475.0h-0.5z M7.16 463.2h1.0V466.6h-1.0z M8.31 464.0h0.5V472.5h-0.5z M8.06 466.6h1.0V471.1h-1.0z M10.13 461.5h0.5V473.4h-0.5z M9.88 467.4h1.0V472.5h-1.0z M16.48 463.4h0.5V480.0h-0.5z M16.23 463.4h1.0V470.5h-1.0z M17.38 468.0h0.5V472.9h-0.5z M17.13 470.5h1.0V471.7h-1.0z M21.01 461.5h0.5V473.4h-0.5z M20.76 462.5h1.0V470.0h-1.0z M23.73 457.8h0.5V460.0h-0.5z M23.48 458.2h1.0V459.2h-1.0z M24.64 455.0h0.5V466.8h-0.5z M24.39 459.2h1.0V465.9h-1.0z M29.17 407.7h0.5V431.4h-0.5z M28.92 429.3h1.0V431.4h-1.0z M35.52 407.6h0.5V420.0h-0.5z M35.27 410.4h1.0V413.9h-1.0z M38.24 409.8h0.5V410.8h-0.5z M37.99 410.3h1.0V410.9h-1.0z M41.87 406.0h0.5V411.9h-0.5z M41.62 406.7h1.0V411.4h-1.0z M42.78 405.1h0.5V412.8h-0.5z M42.53 411.4h1.0V412.8h-1.0z M47.31 397.9h0.5V424.6h-0.5z M47.06 405.6h1.0V406.3h-1.0z M48.22 403.1h0.5V412.8h-0.5z M47.97 406.3h1.0V412.6h-1.0z M49.13 410.6h0.5V416.0h-0.5z M48.88 412.6h1.0V415.2h-1.0z M50.94 398.3h0.5V413.8h-0.5z M50.69 400.7h1.0V404.9h-1.0z M51.85 401.7h0.5V412.1h-0.5z M51.60 404.9h1.0V410.6h-1.0z M54.57 398.4h0.5V402.7h-0.5z M54.32 398.6h1.0V399.4h-1.0z M55.48 390.8h0.5V409.3h-0.5z M55.23 399.4h1.0V405.0h-1.0z M58.20 391.0h0.5V399.6h-0.5z M57.95 394.4h1.0V396.2h-1.0z M59.10 383.0h0.5V399.4h-0.5z M58.85 396.2h1.0V397.1h-1.0z M60.92 383.1h0.5V393.2h-0.5z M60.67 385.2h1.0V393.2h-1.0z M66.36 360.7h0.5V370.8h-0.5z M66.11 363.7h1.0V366.4h-1.0z M72.71 213.0h0.5V262.6h-0.5z M72.46 244.6h1.0V250.3h-1.0z M76.34 169.2h0.5V180.0h-0.5z M76.09 169.2h1.0V177.9h-1.0z M77.25 177.5h0.5V240.0h-0.5z M77.00 177.9h1.0V214.2h-1.0z M82.69 67.7h0.5V117.2h-0.5z M82.44 82.3h1.0V108.8h-1.0z M85.41 106.6h0.5V176.0h-0.5z M85.16 106.6h1.0V123.1h-1.0z M86.32 125.4h0.5V168.9h-0.5z M86.07 125.4h1.0V154.3h-1.0z M88.13 126.4h0.5V154.0h-0.5z M87.88 132.7h1.0V148.5h-1.0z M89.04 104.6h0.5V158.1h-0.5z M88.79 148.5h1.0V152.5h-1.0z M89.94 137.1h0.5V179.0h-0.5z M89.69 152.5h1.0V158.5h-1.0z M90.85 117.0h0.5V169.8h-0.5z M90.60 158.5h1.0V169.8h-1.0z M94.48 159.6h0.5V166.0h-0.5z M94.23 164.5h1.0V166.0h-1.0z M97.20 156.5h0.5V171.6h-0.5z M96.95 157.4h1.0V171.6h-1.0z M99.01 124.7h0.5V173.0h-0.5z M98.76 143.8h1.0V159.7h-1.0z M99.92 129.0h0.5V169.0h-0.5z M99.67 159.7h1.0V166.5h-1.0z M101.73 160.6h0.5V173.0h-0.5z M101.48 162.2h1.0V173.0h-1.0z M105.36 144.4h0.5V165.2h-0.5z M105.11 149.2h1.0V159.8h-1.0z M106.27 155.4h0.5V166.5h-0.5z M106.02 159.8h1.0V166.5h-1.0z M107.18 129.0h0.5V169.2h-0.5z M106.93 166.5h1.0V169.2h-1.0z M108.99 137.5h0.5V155.6h-0.5z M108.74 141.2h1.0V154.9h-1.0z M109.90 152.0h0.5V183.4h-0.5z M109.65 154.9h1.0V178.5h-1.0z M110.80 142.0h0.5V213.6h-0.5z M110.55 178.5h1.0V204.5h-1.0z M111.71 195.2h0.5V237.7h-0.5z M111.46 204.5h1.0V228.3h-1.0z M112.62 200.0h0.5V252.8h-0.5z M112.37 228.3h1.0V251.1h-1.0z M113.53 249.3h0.5V293.0h-0.5z M113.28 251.1h1.0V251.7h-1.0z M115.34 219.0h0.5V241.3h-0.5z M115.09 221.0h1.0V238.1h-1.0z M119.87 218.2h0.5V256.0h-0.5z M119.62 218.2h1.0V230.0h-1.0z M120.78 226.6h0.5V253.0h-0.5z M120.53 230.0h1.0V252.9h-1.0z M121.69 222.0h0.5V261.9h-0.5z M121.44 252.9h1.0V259.1h-1.0z M127.13 225.7h0.5V232.1h-0.5z M126.88 229.5h1.0V232.1h-1.0z M128.94 214.4h0.5V231.5h-0.5z M128.69 217.2h1.0V226.2h-1.0z M129.85 224.1h0.5V229.4h-0.5z M129.60 226.2h1.0V229.4h-1.0z M134.39 210.8h0.5V237.7h-0.5z M134.14 210.8h1.0V214.4h-1.0z M135.29 216.3h0.5V250.6h-0.5z M135.04 216.3h1.0V245.7h-1.0z M137.11 225.0h0.5V263.6h-0.5z M136.86 239.6h1.0V253.6h-1.0z M140.74 201.6h0.5V253.0h-0.5z M140.49 206.2h1.0V214.0h-1.0z M141.64 204.4h0.5V235.4h-0.5z M141.39 214.0h1.0V231.7h-1.0z M143.46 196.4h0.5V244.0h-0.5z M143.21 200.1h1.0V204.5h-1.0z M145.27 196.6h0.5V202.1h-0.5z M145.02 196.6h1.0V198.2h-1.0z M146.18 200.8h0.5V216.1h-0.5z M145.93 201.9h1.0V215.7h-1.0z M148.90 209.1h0.5V221.2h-0.5z M148.65 209.1h1.0V215.6h-1.0z M149.81 214.3h0.5V244.0h-0.5z M149.56 215.6h1.0V217.9h-1.0z M150.71 217.8h0.5V232.7h-0.5z M150.46 217.9h1.0V229.4h-1.0z M151.62 229.1h0.5V233.3h-0.5z M151.37 229.4h1.0V230.5h-1.0z M152.53 219.0h0.5V243.6h-0.5z M152.28 230.5h1.0V238.3h-1.0z M153.43 234.9h0.5V250.0h-0.5z M153.18 238.3h1.0V242.0h-1.0z M154.34 239.4h0.5V249.8h-0.5z M154.09 242.0h1.0V249.3h-1.0z M155.25 237.7h0.5V280.4h-0.5z M155.00 249.3h1.0V266.7h-1.0z M157.06 240.1h0.5V268.1h-0.5z M156.81 253.5h1.0V263.8h-1.0z M159.78 248.4h0.5V251.2h-0.5z M159.53 250.9h1.0V251.5h-1.0z M163.41 222.2h0.5V228.1h-0.5z M163.16 224.7h1.0V227.3h-1.0z M164.32 219.0h0.5V235.7h-0.5z M164.07 227.3h1.0V233.6h-1.0z M165.22 226.0h0.5V240.8h-0.5z M164.97 233.6h1.0V238.2h-1.0z M170.67 136.0h0.5V200.1h-0.5z M170.42 167.9h1.0V186.7h-1.0z M173.39 130.0h0.5V183.0h-0.5z M173.14 169.0h1.0V183.0h-1.0z M175.20 147.7h0.5V153.7h-0.5z M174.95 150.0h1.0V152.8h-1.0z M177.02 130.0h0.5V143.7h-0.5z M176.77 133.7h1.0V139.7h-1.0z M179.74 121.0h0.5V144.5h-0.5z M179.49 131.7h1.0V136.2h-1.0z M181.55 152.2h0.5V189.4h-0.5z M181.30 152.2h1.0V172.1h-1.0z M182.46 172.0h0.5V192.2h-0.5z M182.21 172.1h1.0V174.2h-1.0z M184.27 173.0h0.5V183.6h-0.5z M184.02 173.0h1.0V182.1h-1.0z M185.18 181.8h0.5V198.3h-0.5z M184.93 182.1h1.0V193.2h-1.0z M188.81 173.0h0.5V180.4h-0.5z M188.56 173.1h1.0V180.0h-1.0z M193.34 142.2h0.5V171.6h-0.5z M193.09 145.7h1.0V161.8h-1.0z M196.97 114.1h0.5V143.1h-0.5z M196.72 114.1h1.0V131.5h-1.0z M197.88 129.7h0.5V144.6h-0.5z M197.63 131.5h1.0V141.4h-1.0z M199.69 126.1h0.5V135.8h-0.5z M199.44 127.9h1.0V134.0h-1.0z M200.60 124.0h0.5V136.8h-0.5z M200.35 134.0h1.0V135.1h-1.0z M203.32 121.9h0.5V128.6h-0.5z M203.07 122.6h1.0V127.9h-1.0z M205.13 123.3h0.5V151.5h-0.5z M204.88 124.3h1.0V128.1h-1.0z M206.04 127.0h0.5V145.2h-0.5z M205.79 128.1h1.0V142.7h-1.0z M207.85 130.0h0.5V145.8h-0.5z M207.60 136.9h1.0V145.6h-1.0z M214.20 133.0h0.5V142.2h-0.5z M213.95 135.8h1.0V138.9h-1.0z M215.11 141.4h0.5V173.0h-0.5z M214.86 141.4h1.0V154.4h-1.0z M216.02 150.4h0.5V198.7h-0.5z M215.77 154.4h1.0V198.7h-1.0z M216.92 151.5h0.5V206.5h-0.5z M216.67 198.7h1.0V202.7h-1.0z M218.74 159.8h0.5V178.8h-0.5z M218.49 163.2h1.0V177.7h-1.0z M219.64 164.0h0.5V183.5h-0.5z M219.39 177.7h1.0V182.0h-1.0z M220.55 177.0h0.5V197.7h-0.5z M220.30 182.0h1.0V196.4h-1.0z M222.37 160.8h0.5V174.9h-0.5z M222.12 162.2h1.0V174.8h-1.0z M225.09 164.0h0.5V167.9h-0.5z M224.84 164.5h1.0V165.3h-1.0z M225.99 157.7h0.5V172.0h-0.5z M225.74 165.3h1.0V170.2h-1.0z M226.90 167.1h0.5V180.1h-0.5z M226.65 170.2h1.0V176.1h-1.0z M227.81 173.4h0.5V190.0h-0.5z M227.56 176.1h1.0V186.9h-1.0z M228.71 179.0h0.5V200.9h-0.5z M228.46 186.9h1.0V196.1h-1.0z M229.62 192.9h0.5V206.1h-0.5z M229.37 196.1h1.0V205.4h-1.0z M230.53 198.8h0.5V213.5h-0.5z M230.28 205.4h1.0V209.3h-1.0z M231.44 191.5h0.5V217.3h-0.5z M231.19 209.3h1.0V215.6h-1.0z M232.34 212.2h0.5V234.6h-0.5z M232.09 215.6h1.0V216.2h-1.0z M234.16 205.4h0.5V216.8h-0.5z M233.91 211.1h1.0V215.2h-1.0z M235.97 185.0h0.5V211.0h-0.5z M235.72 208.1h1.0V210.8h-1.0z M236.88 208.6h0.5V216.0h-0.5z M236.63 210.8h1.0V211.5h-1.0z M239.60 201.4h0.5V206.0h-0.5z M239.35 204.2h1.0V206.0h-1.0z M240.51 205.1h0.5V208.2h-0.5z M240.26 206.0h1.0V208.2h-1.0z M243.23 182.2h0.5V188.9h-0.5z M242.98 182.4h1.0V187.8h-1.0z M247.76 156.0h0.5V168.3h-0.5z M247.51 159.3h1.0V167.4h-1.0z M251.39 160.0h0.5V179.0h-0.5z M251.14 160.7h1.0V165.1h-1.0z M253.20 161.2h0.5V167.0h-0.5z M252.95 163.1h1.0V164.0h-1.0z M254.11 157.7h0.5V176.4h-0.5z M253.86 164.0h1.0V175.3h-1.0z M256.83 145.0h0.5V158.9h-0.5z M256.58 151.2h1.0V153.4h-1.0z M258.64 150.0h0.5V153.2h-0.5z M258.39 150.7h1.0V151.6h-1.0z M260.46 146.6h0.5V151.5h-0.5z M260.21 148.0h1.0V150.0h-1.0z M262.27 136.2h0.5V142.0h-0.5z M262.02 136.8h1.0V137.9h-1.0z M264.99 97.7h0.5V131.5h-0.5z M264.74 123.6h1.0V131.2h-1.0z M267.71 119.9h0.5V128.0h-0.5z M267.46 123.3h1.0V126.8h-1.0z M268.62 111.5h0.5V129.5h-0.5z M268.37 126.8h1.0V127.4h-1.0z M270.44 121.3h0.5V133.0h-0.5z M270.19 123.4h1.0V132.9h-1.0z M272.25 119.6h0.5V133.5h-0.5z M272.00 121.9h1.0V132.1h-1.0z M273.16 123.0h0.5V134.4h-0.5z M272.91 132.1h1.0V134.4h-1.0z M274.06 134.1h0.5V135.3h-0.5z M273.81 134.4h1.0V135.3h-1.0z M274.97 103.8h0.5V136.0h-0.5z M274.72 135.3h1.0V136.0h-1.0z M277.69 116.0h0.5V133.6h-0.5z M277.44 128.6h1.0V129.5h-1.0z M278.60 127.8h0.5V136.0h-0.5z M278.35 129.5h1.0V134.3h-1.0z M281.32 113.3h0.5V133.3h-0.5z M281.07 114.8h1.0V125.6h-1.0z M282.23 123.4h0.5V148.1h-0.5z M281.98 125.6h1.0V136.5h-1.0z M284.04 121.0h0.5V163.9h-0.5z M283.79 130.1h1.0V156.4h-1.0z M285.85 151.2h0.5V170.2h-0.5z M285.60 151.3h1.0V164.1h-1.0z M286.76 164.0h0.5V181.7h-0.5z M286.51 164.1h1.0V180.3h-1.0z M287.67 177.9h0.5V185.0h-0.5z M287.42 180.3h1.0V181.0h-1.0z M294.02 158.6h0.5V163.3h-0.5z M293.77 160.5h1.0V162.6h-1.0z M294.93 154.6h0.5V169.4h-0.5z M294.68 162.6h1.0V168.1h-1.0z M295.83 167.8h0.5V172.5h-0.5z M295.58 168.1h1.0V169.3h-1.0z M297.65 166.4h0.5V171.8h-0.5z M297.40 167.7h1.0V170.4h-1.0z M298.55 164.0h0.5V176.4h-0.5z M298.30 170.4h1.0V175.9h-1.0z M302.18 169.5h0.5V183.9h-0.5z M301.93 169.9h1.0V179.4h-1.0z M304.00 176.9h0.5V194.6h-0.5z M303.75 176.9h1.0V187.4h-1.0z M304.90 185.9h0.5V204.0h-0.5z M304.65 187.4h1.0V192.5h-1.0z M305.81 186.6h0.5V200.5h-0.5z M305.56 192.5h1.0V198.2h-1.0z M306.72 198.2h0.5V202.7h-0.5z M306.47 198.2h1.0V201.3h-1.0z M307.62 188.5h0.5V205.8h-0.5z M307.37 201.3h1.0V205.3h-1.0z M309.44 199.4h0.5V205.6h-0.5z M309.19 201.5h1.0V203.3h-1.0z M311.25 197.5h0.5V213.0h-0.5z M311.00 203.2h1.0V209.2h-1.0z M313.06 185.7h0.5V193.8h-0.5z M312.81 187.9h1.0V192.2h-1.0z M315.79 184.5h0.5V244.5h-0.5z M315.54 184.5h1.0V238.1h-1.0z M316.69 188.5h0.5V274.9h-0.5z M316.44 238.1h1.0V260.0h-1.0z M319.41 231.5h0.5V241.1h-0.5z M319.16 237.6h1.0V238.3h-1.0z M322.13 231.5h0.5V241.3h-0.5z M321.88 231.5h1.0V239.0h-1.0z M323.95 234.0h0.5V256.0h-0.5z M323.70 235.1h1.0V242.8h-1.0z M324.86 240.2h0.5V243.9h-0.5z M324.61 242.8h1.0V243.9h-1.0z M325.76 237.7h0.5V252.1h-0.5z M325.51 243.9h1.0V251.6h-1.0z M326.67 250.1h0.5V260.0h-0.5z M326.42 251.6h1.0V256.0h-1.0z M328.48 228.5h0.5V248.2h-0.5z M328.23 244.4h1.0V248.2h-1.0z M331.20 233.0h0.5V239.4h-0.5z M330.95 233.2h1.0V238.4h-1.0z M333.02 230.7h0.5V237.7h-0.5z M332.77 232.2h1.0V235.1h-1.0z M335.74 220.5h0.5V231.5h-0.5z M335.49 223.8h1.0V229.0h-1.0z M336.65 228.6h0.5V233.1h-0.5z M336.40 229.0h1.0V232.1h-1.0z M337.55 219.0h0.5V234.8h-0.5z M337.30 232.1h1.0V234.8h-1.0z M338.46 233.6h0.5V237.7h-0.5z M338.21 234.8h1.0V237.0h-1.0z M339.37 232.9h0.5V241.5h-0.5z M339.12 237.0h1.0V241.5h-1.0z M340.27 238.1h0.5V245.1h-0.5z M340.02 241.5h1.0V244.7h-1.0z M341.18 228.5h0.5V251.0h-0.5z M340.93 244.7h1.0V248.6h-1.0z M342.09 245.2h0.5V253.7h-0.5z M341.84 248.6h1.0V253.5h-1.0z M343.00 253.4h0.5V264.2h-0.5z M342.75 253.5h1.0V263.2h-1.0z M347.53 253.3h0.5V261.0h-0.5z M347.28 253.3h1.0V260.7h-1.0z M348.44 260.6h0.5V274.0h-0.5z M348.19 260.7h1.0V262.8h-1.0z M349.34 259.0h0.5V266.0h-0.5z M349.09 262.8h1.0V266.0h-1.0z M351.16 262.0h0.5V281.5h-0.5z M350.91 264.1h1.0V269.3h-1.0z M355.69 256.0h0.5V271.1h-0.5z M355.44 257.7h1.0V268.4h-1.0z M357.51 252.7h0.5V276.0h-0.5z M357.26 267.8h1.0V276.0h-1.0z M360.23 258.2h0.5V275.8h-0.5z M359.98 260.0h1.0V268.4h-1.0z M366.58 213.7h0.5V221.9h-0.5z M366.33 213.7h1.0V219.6h-1.0z M368.39 217.4h0.5V231.5h-0.5z M368.14 218.1h1.0V221.3h-1.0z M370.21 220.2h0.5V225.1h-0.5z M369.96 220.9h1.0V222.7h-1.0z M371.11 222.0h0.5V235.7h-0.5z M370.86 222.7h1.0V232.1h-1.0z M372.02 229.6h0.5V242.4h-0.5z M371.77 232.1h1.0V238.8h-1.0z M374.74 219.0h0.5V240.4h-0.5z M374.49 232.2h1.0V239.5h-1.0z M377.46 197.7h0.5V223.8h-0.5z M377.21 203.8h1.0V216.4h-1.0z M379.28 209.5h0.5V218.6h-0.5z M379.03 210.9h1.0V214.5h-1.0z M380.18 191.5h0.5V218.6h-0.5z M379.93 214.5h1.0V217.8h-1.0z M382.90 206.3h0.5V210.5h-0.5z M382.65 207.2h1.0V209.8h-1.0z M384.72 206.5h0.5V222.0h-0.5z M384.47 209.3h1.0V220.9h-1.0z M386.53 206.0h0.5V231.9h-0.5z M386.28 212.1h1.0V230.6h-1.0z M387.44 225.0h0.5V240.8h-0.5z M387.19 230.6h1.0V235.8h-1.0z M388.35 231.9h0.5V252.1h-0.5z M388.10 235.8h1.0V248.4h-1.0z M390.16 234.6h0.5V262.7h-0.5z M389.91 244.5h1.0V258.5h-1.0z M391.07 256.0h0.5V267.5h-0.5z M390.82 258.5h1.0V267.0h-1.0z M393.79 262.3h0.5V274.6h-0.5z M393.54 262.3h1.0V270.0h-1.0z M395.60 267.6h0.5V277.8h-0.5z M395.35 269.7h1.0V277.3h-1.0z M396.51 274.2h0.5V285.4h-0.5z M396.26 277.3h1.0V285.4h-1.0z M397.42 281.4h0.5V287.2h-0.5z M397.17 285.4h1.0V287.2h-1.0z M399.23 284.4h0.5V291.4h-0.5z M398.98 285.8h1.0V291.4h-1.0z M401.04 288.3h0.5V296.9h-0.5z M400.79 289.6h1.0V296.9h-1.0z M402.86 284.2h0.5V299.0h-0.5z M402.61 288.0h1.0V290.9h-1.0z M408.30 258.0h0.5V274.6h-0.5z M408.05 259.7h1.0V265.8h-1.0z M412.83 249.1h0.5V257.7h-0.5z M412.58 249.1h1.0V252.2h-1.0z M413.74 250.0h0.5V255.3h-0.5z M413.49 252.2h1.0V254.7h-1.0z M414.65 251.8h0.5V266.8h-0.5z M414.40 254.7h1.0V264.2h-1.0z M415.56 261.3h0.5V266.6h-0.5z M415.31 264.2h1.0V264.8h-1.0z M417.37 254.1h0.5V283.8h-0.5z M417.12 255.4h1.0V256.6h-1.0z M419.18 248.7h0.5V266.9h-0.5z M418.93 251.4h1.0V263.7h-1.0z M420.09 247.0h0.5V269.7h-0.5z M419.84 263.7h1.0V269.7h-1.0z M426.44 226.0h0.5V251.3h-0.5z M426.19 227.9h1.0V247.8h-1.0z M428.25 236.7h0.5V265.2h-0.5z M428.00 240.0h1.0V265.2h-1.0z M429.16 258.7h0.5V270.8h-0.5z M428.91 265.2h1.0V270.8h-1.0z M430.07 268.9h0.5V274.8h-0.5z M429.82 270.8h1.0V274.2h-1.0z M430.97 247.0h0.5V281.0h-0.5z M430.72 274.2h1.0V280.1h-1.0z M433.70 256.0h0.5V271.0h-0.5z M433.45 265.9h1.0V268.5h-1.0z M436.42 240.8h0.5V261.8h-0.5z M436.17 260.1h1.0V261.8h-1.0z M445.49 200.8h0.5V216.6h-0.5z M445.24 205.9h1.0V210.7h-1.0z M448.21 185.9h0.5V229.0h-0.5z M447.96 187.5h1.0V197.7h-1.0z M450.02 185.6h0.5V194.9h-0.5z M449.77 191.6h1.0V193.4h-1.0z M450.93 186.0h0.5V206.9h-0.5z M450.68 193.4h1.0V206.1h-1.0z M454.56 179.7h0.5V201.5h-0.5z M454.31 180.9h1.0V192.7h-1.0z M457.28 163.7h0.5V169.4h-0.5z M457.03 163.7h1.0V165.5h-1.0z M459.09 177.2h0.5V189.0h-0.5z M458.84 177.2h1.0V184.7h-1.0z M460.00 181.8h0.5V195.4h-0.5z M459.75 184.7h1.0V192.4h-1.0z M460.91 186.0h0.5V205.4h-0.5z M460.66 192.4h1.0V203.0h-1.0z M461.81 200.2h0.5V214.0h-0.5z M461.56 203.0h1.0V207.7h-1.0z M464.53 192.0h0.5V203.8h-0.5z M464.28 197.0h1.0V201.3h-1.0z M466.35 189.5h0.5V194.4h-0.5z M466.10 191.7h1.0V192.4h-1.0z M467.25 180.0h0.5V197.1h-0.5z M467.00 192.4h1.0V195.5h-1.0z M468.16 192.0h0.5V201.5h-0.5z M467.91 195.5h1.0V199.5h-1.0z M470.88 195.4h0.5V199.5h-0.5z M470.63 196.3h1.0V198.4h-1.0z M472.70 199.5h0.5V203.0h-0.5z M472.45 199.5h1.0V202.7h-1.0z M473.60 201.5h0.5V212.2h-0.5z M473.35 202.7h1.0V207.1h-1.0z M477.23 184.6h0.5V214.0h-0.5z M476.98 188.7h1.0V196.4h-1.0z M478.14 195.1h0.5V203.2h-0.5z M477.89 196.4h1.0V201.9h-1.0z M481.77 169.0h0.5V192.4h-0.5z M481.52 191.8h1.0V192.4h-1.0z M482.67 191.1h0.5V201.2h-0.5z M482.42 192.4h1.0V200.0h-1.0z M483.58 199.6h0.5V214.6h-0.5z M483.33 200.0h1.0V211.0h-1.0z M484.49 195.4h0.5V226.8h-0.5z M484.24 211.0h1.0V220.6h-1.0z M485.39 217.1h0.5V232.3h-0.5z M485.14 220.6h1.0V232.3h-1.0z M486.30 231.8h0.5V237.7h-0.5z M486.05 232.3h1.0V235.7h-1.0z M487.21 223.0h0.5V242.9h-0.5z M486.96 235.7h1.0V238.5h-1.0z M488.12 237.2h0.5V253.5h-0.5z M487.87 238.5h1.0V250.9h-1.0z M489.02 235.0h0.5V261.1h-0.5z M488.77 250.9h1.0V257.5h-1.0z M490.84 245.4h0.5V256.1h-0.5z M490.59 250.6h1.0V255.9h-1.0z M491.74 250.0h0.5V260.9h-0.5z M491.49 255.9h1.0V260.4h-1.0z M492.65 259.1h0.5V280.0h-0.5z M492.40 260.4h1.0V269.2h-1.0z M493.56 265.6h0.5V292.1h-0.5z M493.31 269.2h1.0V290.1h-1.0z M495.37 284.3h0.5V304.8h-0.5z M495.12 289.5h1.0V303.9h-1.0z M496.28 298.3h0.5V311.8h-0.5z M496.03 303.9h1.0V311.8h-1.0z M497.19 308.8h0.5V318.8h-0.5z M496.94 311.8h1.0V318.8h-1.0z M499.91 294.1h0.5V314.8h-0.5z M499.66 297.5h1.0V314.8h-1.0z M501.72 291.2h0.5V305.0h-0.5z M501.47 291.9h1.0V302.6h-1.0z M505.35 278.9h0.5V296.0h-0.5z M505.10 278.9h1.0V283.8h-1.0z M506.26 282.1h0.5V289.7h-0.5z M506.01 283.8h1.0V286.0h-1.0z M507.16 274.6h0.5V290.6h-0.5z M506.91 286.0h1.0V290.6h-1.0z M508.98 275.6h0.5V290.0h-0.5z M508.73 279.2h1.0V287.8h-1.0z M511.70 272.5h0.5V299.0h-0.5z M511.45 272.9h1.0V287.9h-1.0z M513.51 271.5h0.5V283.4h-0.5z M513.26 277.2h1.0V279.0h-1.0z M514.42 276.2h0.5V293.0h-0.5z M514.17 279.0h1.0V284.0h-1.0z M515.33 283.7h0.5V296.3h-0.5z M515.08 284.0h1.0V294.3h-1.0z M518.05 283.5h0.5V305.0h-0.5z M517.80 283.5h1.0V288.7h-1.0z M518.95 286.0h0.5V307.9h-0.5z M518.70 288.7h1.0V304.8h-1.0z M520.77 293.9h0.5V314.6h-0.5z M520.52 296.8h1.0V300.0h-1.0z M521.67 297.5h0.5V309.0h-0.5z M521.42 300.0h1.0V308.7h-1.0z M524.40 299.6h0.5V311.5h-0.5z M524.15 302.0h1.0V309.0h-1.0z M527.12 300.1h0.5V313.8h-0.5z M526.87 300.1h1.0V313.8h-1.0z M528.02 313.3h0.5V320.8h-0.5z M527.77 313.8h1.0V319.2h-1.0z M528.93 308.5h0.5V329.6h-0.5z M528.68 319.2h1.0V324.6h-1.0z M529.84 317.9h0.5V330.0h-0.5z M529.59 324.6h1.0V325.2h-1.0z M530.75 324.3h0.5V336.9h-0.5z M530.50 324.9h1.0V334.4h-1.0z M531.65 327.0h0.5V341.3h-0.5z M531.40 334.4h1.0V335.6h-1.0z M532.56 334.4h0.5V354.6h-0.5z M532.31 335.6h1.0V342.9h-1.0z M536.19 356.1h0.5V363.0h-0.5z M535.94 356.1h1.0V358.5h-1.0z M538.00 357.7h0.5V371.7h-0.5z M537.75 358.2h1.0V365.4h-1.0z M539.81 362.0h0.5V366.7h-0.5z M539.56 362.0h1.0V365.7h-1.0z M541.63 364.0h0.5V385.4h-0.5z M541.38 364.0h1.0V371.5h-1.0z M542.54 369.9h0.5V376.0h-0.5z M542.29 371.5h1.0V375.8h-1.0z M543.44 364.0h0.5V376.0h-0.5z M543.19 375.8h1.0V376.4h-1.0z M545.26 369.1h0.5V379.2h-0.5z M545.01 370.8h1.0V379.2h-1.0z M553.42 321.9h0.5V339.0h-0.5z M553.17 323.0h1.0V327.0h-1.0z M554.33 324.8h0.5V330.9h-0.5z M554.08 327.0h1.0V329.0h-1.0z M555.23 324.7h0.5V334.0h-0.5z M554.98 329.0h1.0V334.0h-1.0z M556.14 316.0h0.5V335.4h-0.5z M555.89 334.0h1.0V335.4h-1.0z M557.96 333.4h0.5V343.9h-0.5z M557.71 335.0h1.0V339.0h-1.0z M558.86 330.0h0.5V352.2h-0.5z M558.61 339.0h1.0V352.2h-1.0z M559.77 350.7h0.5V357.8h-0.5z M559.52 352.2h1.0V357.8h-1.0z M561.58 335.0h0.5V363.0h-0.5z M561.33 357.6h1.0V361.7h-1.0z M563.40 350.3h0.5V364.5h-0.5z M563.15 353.7h1.0V363.2h-1.0z M564.30 354.6h0.5V373.3h-0.5z M564.05 363.2h1.0V372.3h-1.0z M566.12 369.1h0.5V379.5h-0.5z M565.87 369.5h1.0V379.5h-1.0z M567.02 379.0h0.5V382.8h-0.5z M566.77 379.5h1.0V382.7h-1.0z M570.65 372.7h0.5V376.0h-0.5z M570.40 372.7h1.0V375.7h-1.0z M571.56 374.5h0.5V407.0h-0.5z M571.31 375.7h1.0V376.3h-1.0z M572.47 373.9h0.5V388.9h-0.5z M572.22 376.1h1.0V388.3h-1.0z M575.19 384.7h0.5V390.2h-0.5z M574.94 386.2h1.0V390.2h-1.0z M577.91 360.5h0.5V383.8h-0.5z M577.66 364.8h1.0V374.1h-1.0z M580.63 348.2h0.5V365.4h-0.5z M580.38 349.9h1.0V354.9h-1.0z M582.44 343.8h0.5V347.6h-0.5z M582.19 346.5h1.0V347.2h-1.0z M583.35 347.4h0.5V368.5h-0.5z M583.10 347.4h1.0V354.1h-1.0z M584.26 352.9h0.5V374.6h-0.5z M584.01 354.1h1.0V374.3h-1.0z M585.16 372.7h0.5V378.8h-0.5z M584.91 374.3h1.0V375.2h-1.0z M586.07 362.0h0.5V380.0h-0.5z M585.82 375.2h1.0V378.4h-1.0z M591.51 307.0h0.5V331.7h-0.5z M591.26 323.4h1.0V328.8h-1.0z M592.42 319.1h0.5V347.0h-0.5z M592.17 328.8h1.0V342.5h-1.0z M593.33 339.7h0.5V353.3h-0.5z M593.08 342.5h1.0V351.5h-1.0z M597.86 347.2h0.5V377.1h-0.5z M597.61 347.2h1.0V366.5h-1.0z M600.58 359.3h0.5V366.9h-0.5z M600.33 360.4h1.0V365.3h-1.0z M601.49 362.0h0.5V377.3h-0.5z M601.24 365.3h1.0V372.2h-1.0z M603.30 359.7h0.5V368.4h-0.5z M603.05 365.4h1.0V367.8h-1.0z M608.75 343.9h0.5V368.5h-0.5z M608.50 346.9h1.0V355.7h-1.0z M613.28 333.1h0.5V340.5h-0.5z M613.03 335.8h1.0V336.4h-1.0z M615.10 309.1h0.5V344.0h-0.5z M614.85 313.8h1.0V322.8h-1.0z M616.91 282.0h0.5V308.8h-0.5z M616.66 303.1h1.0V304.0h-1.0z M618.72 289.2h0.5V295.7h-0.5z M618.47 291.3h1.0V293.3h-1.0z M620.54 282.3h0.5V318.4h-0.5z M620.29 282.3h1.0V318.4h-1.0z M621.45 317.1h0.5V321.1h-0.5z M621.20 318.4h1.0V319.0h-1.0z M624.17 293.0h0.5V303.4h-0.5z M623.92 294.4h1.0V302.0h-1.0z M625.07 299.9h0.5V309.4h-0.5z M624.82 302.0h1.0V306.8h-1.0z M625.98 294.6h0.5V314.8h-0.5z M625.73 306.8h1.0V312.7h-1.0z M632.33 254.8h0.5V282.0h-0.5z M632.08 263.6h1.0V264.2h-1.0z M635.05 236.0h0.5V253.8h-0.5z M634.80 247.8h1.0V252.1h-1.0z M635.96 245.9h0.5V260.8h-0.5z M635.71 252.1h1.0V253.3h-1.0z M637.77 227.0h0.5V256.4h-0.5z M637.52 250.0h1.0V255.0h-1.0z M639.59 245.5h0.5V263.4h-0.5z M639.34 252.1h1.0V263.4h-1.0z M644.12 220.8h0.5V226.0h-0.5z M643.87 222.4h1.0V223.2h-1.0z M645.93 223.0h0.5V246.7h-0.5z M645.68 223.0h1.0V243.2h-1.0z M646.84 223.8h0.5V251.2h-0.5z M646.59 243.2h1.0V249.6h-1.0z M651.38 221.3h0.5V237.4h-0.5z M651.13 225.5h1.0V236.7h-1.0z M654.10 226.5h0.5V251.5h-0.5z M653.85 228.8h1.0V235.5h-1.0z M655.00 231.1h0.5V240.5h-0.5z M654.75 235.5h1.0V240.2h-1.0z M655.91 215.4h0.5V244.1h-0.5z M655.66 240.2h1.0V240.8h-1.0z M657.73 229.4h0.5V239.2h-0.5z M657.48 230.4h1.0V232.1h-1.0z M658.63 220.8h0.5V256.7h-0.5z M658.38 232.1h1.0V249.3h-1.0z M659.54 249.2h0.5V264.0h-0.5z M659.29 249.3h1.0V256.9h-1.0z M662.26 227.5h0.5V251.5h-0.5z M662.01 227.6h1.0V242.8h-1.0z M664.07 235.7h0.5V242.5h-0.5z M663.82 235.8h1.0V241.1h-1.0z M664.98 230.0h0.5V250.7h-0.5z M664.73 241.1h1.0V245.0h-1.0z M668.61 222.2h0.5V250.9h-0.5z M668.36 227.0h1.0V238.8h-1.0z M669.52 212.0h0.5V273.1h-0.5z M669.27 238.8h1.0V269.9h-1.0z M671.33 267.0h0.5V280.3h-0.5z M671.08 267.3h1.0V278.0h-1.0z M673.14 273.8h0.5V282.7h-0.5z M672.89 274.5h1.0V281.0h-1.0z M676.77 282.0h0.5V291.9h-0.5z M676.52 282.0h1.0V290.4h-1.0z M678.59 288.1h0.5V293.8h-0.5z M678.34 288.1h1.0V292.4h-1.0z M679.49 288.5h0.5V294.5h-0.5z M679.24 292.4h1.0V293.0h-1.0z M680.40 292.5h0.5V307.0h-0.5z M680.15 292.7h1.0V297.5h-1.0z M681.31 298.1h0.5V299.1h-0.5z M681.06 298.1h1.0V298.7h-1.0z M682.21 303.7h0.5V310.3h-0.5z M681.96 303.7h1.0V307.4h-1.0z M683.12 306.6h0.5V309.7h-0.5z M682.87 307.4h1.0V309.1h-1.0z M684.03 309.0h0.5V325.0h-0.5z M683.78 309.1h1.0V314.2h-1.0z M685.84 304.0h0.5V319.7h-0.5z M685.59 310.7h1.0V318.7h-1.0z M686.75 317.4h0.5V329.3h-0.5z M686.50 318.7h1.0V324.5h-1.0z M687.66 323.8h0.5V336.0h-0.5z M687.41 324.5h1.0V334.1h-1.0z M689.47 322.6h0.5V344.0h-0.5z M689.22 325.4h1.0V336.6h-1.0z M692.19 276.0h0.5V309.8h-0.5z M691.94 305.2h1.0V308.5h-1.0z M697.63 251.5h0.5V267.4h-0.5z M697.38 263.1h1.0V265.8h-1.0z M698.54 263.1h0.5V273.0h-0.5z M698.29 265.8h1.0V270.6h-1.0z M701.26 254.9h0.5V264.0h-0.5z M701.01 258.1h1.0V261.4h-1.0z M708.75 198.3h0.5V209.9h-0.5z M708.50 202.1h1.0V206.6h-1.0z "/>
</g>
<path fill="#0e2c9c" d="M893.7 132.50H956.0v1.35H893.7zM895.7 133.80H956.0v1.35H895.7zM907.3 135.10H956.0v1.35H907.3zM902.1 136.40H956.0v1.35H902.1zM904.6 137.70H956.0v1.35H904.6zM906.2 139.00H956.0v1.35H906.2zM908.7 140.30H956.0v1.35H908.7zM910.0 141.60H956.0v1.35H910.0zM905.7 142.90H956.0v1.35H905.7zM908.5 144.20H956.0v1.35H908.5zM905.9 145.50H956.0v1.35H905.9zM904.4 146.80H956.0v1.35H904.4zM906.7 148.10H956.0v1.35H906.7zM909.0 149.40H956.0v1.35H909.0zM911.7 150.70H956.0v1.35H911.7zM913.6 152.00H956.0v1.35H913.6zM916.8 153.30H956.0v1.35H916.8zM916.8 154.60H956.0v1.35H916.8zM919.5 155.90H956.0v1.35H919.5zM914.0 157.20H956.0v1.35H914.0zM906.7 158.50H956.0v1.35H906.7zM903.4 159.80H956.0v1.35H903.4zM899.2 161.10H956.0v1.35H899.2zM891.3 162.40H956.0v1.35H891.3zM892.7 163.70H956.0v1.35H892.7zM890.0 165.00H956.0v1.35H890.0zM893.2 166.30H956.0v1.35H893.2zM885.7 167.60H956.0v1.35H885.7zM879.1 168.90H956.0v1.35H879.1zM878.3 170.20H956.0v1.35H878.3zM876.3 171.50H956.0v1.35H876.3zM881.4 172.80H956.0v1.35H881.4zM877.4 174.10H956.0v1.35H877.4zM885.5 175.40H956.0v1.35H885.5zM886.7 176.70H956.0v1.35H886.7zM890.9 178.00H956.0v1.35H890.9zM894.4 179.30H956.0v1.35H894.4zM900.3 180.60H956.0v1.35H900.3zM902.3 181.90H956.0v1.35H902.3zM904.1 183.20H956.0v1.35H904.1zM902.2 184.50H956.0v1.35H902.2zM902.0 185.80H956.0v1.35H902.0zM899.6 187.10H956.0v1.35H899.6zM895.9 188.40H956.0v1.35H895.9zM893.4 189.70H956.0v1.35H893.4zM889.5 191.00H956.0v1.35H889.5zM887.1 192.30H956.0v1.35H887.1zM888.6 193.60H956.0v1.35H888.6zM889.5 194.90H956.0v1.35H889.5zM886.7 196.20H956.0v1.35H886.7zM884.4 197.50H956.0v1.35H884.4zM888.9 198.80H956.0v1.35H888.9zM891.6 200.10H956.0v1.35H891.6zM892.8 201.40H956.0v1.35H892.8zM889.2 202.70H956.0v1.35H889.2zM893.7 204.00H956.0v1.35H893.7zM896.2 205.30H956.0v1.35H896.2zM901.1 206.60H956.0v1.35H901.1zM898.8 207.90H956.0v1.35H898.8zM897.6 209.20H956.0v1.35H897.6zM900.0 210.50H956.0v1.35H900.0zM895.5 211.80H956.0v1.35H895.5zM892.6 213.10H956.0v1.35H892.6zM883.1 214.40H956.0v1.35H883.1zM882.1 215.70H956.0v1.35H882.1zM875.1 217.00H956.0v1.35H875.1zM871.8 218.30H956.0v1.35H871.8zM867.9 219.60H956.0v1.35H867.9zM862.7 220.90H956.0v1.35H862.7zM865.4 222.20H956.0v1.35H865.4zM860.2 223.50H956.0v1.35H860.2zM857.4 224.80H956.0v1.35H857.4zM853.4 226.10H956.0v1.35H853.4zM853.1 227.40H956.0v1.35H853.1zM850.0 228.70H956.0v1.35H850.0zM849.1 230.00H956.0v1.35H849.1zM847.1 231.30H956.0v1.35H847.1zM851.3 232.60H956.0v1.35H851.3zM855.0 233.90H956.0v1.35H855.0zM858.7 235.20H956.0v1.35H858.7zM861.3 236.50H956.0v1.35H861.3zM868.9 237.80H956.0v1.35H868.9zM871.1 239.10H956.0v1.35H871.1zM876.6 240.40H956.0v1.35H876.6zM885.4 241.70H956.0v1.35H885.4zM886.7 243.00H956.0v1.35H886.7zM888.3 244.30H956.0v1.35H888.3zM893.1 245.60H956.0v1.35H893.1zM890.9 246.90H956.0v1.35H890.9zM897.0 248.20H956.0v1.35H897.0zM894.6 249.50H956.0v1.35H894.6zM896.9 250.80H956.0v1.35H896.9zM896.6 252.10H956.0v1.35H896.6zM894.5 253.40H956.0v1.35H894.5zM895.9 254.70H956.0v1.35H895.9zM902.3 256.00H956.0v1.35H902.3zM898.9 257.30H956.0v1.35H898.9zM898.9 258.60H956.0v1.35H898.9zM902.4 259.90H956.0v1.35H902.4zM896.8 261.20H956.0v1.35H896.8zM898.7 262.50H956.0v1.35H898.7zM897.3 263.80H956.0v1.35H897.3zM897.9 265.10H956.0v1.35H897.9zM896.3 266.40H956.0v1.35H896.3zM894.9 267.70H956.0v1.35H894.9zM897.8 269.00H956.0v1.35H897.8zM895.2 270.30H956.0v1.35H895.2zM894.6 271.60H956.0v1.35H894.6zM894.3 272.90H956.0v1.35H894.3zM897.6 274.20H956.0v1.35H897.6zM899.8 275.50H956.0v1.35H899.8zM903.9 276.80H956.0v1.35H903.9zM906.2 278.10H956.0v1.35H906.2zM903.2 279.40H956.0v1.35H903.2zM904.4 280.70H956.0v1.35H904.4z"/><path fill="#2c5ef4" d="M954.3 61.00H956.0v1.35H954.3zM953.6 62.30H956.0v1.35H953.6zM953.8 63.60H956.0v1.35H953.8zM954.6 64.90H956.0v1.35H954.6zM952.8 66.20H956.0v1.35H952.8zM954.0 67.50H956.0v1.35H954.0zM954.3 68.80H956.0v1.35H954.3zM953.4 70.10H956.0v1.35H953.4zM953.2 71.40H956.0v1.35H953.2zM952.5 72.70H956.0v1.35H952.5zM953.2 74.00H956.0v1.35H953.2zM953.0 75.30H956.0v1.35H953.0zM953.4 76.60H956.0v1.35H953.4zM952.9 77.90H956.0v1.35H952.9zM953.1 79.20H956.0v1.35H953.1zM952.2 80.50H956.0v1.35H952.2zM952.1 81.80H956.0v1.35H952.1zM952.0 83.10H956.0v1.35H952.0zM951.6 84.40H956.0v1.35H951.6zM950.3 85.70H956.0v1.35H950.3zM951.3 87.00H956.0v1.35H951.3zM950.6 88.30H956.0v1.35H950.6zM949.1 89.60H956.0v1.35H949.1zM948.7 90.90H956.0v1.35H948.7zM948.5 92.20H956.0v1.35H948.5zM948.3 93.50H956.0v1.35H948.3zM947.3 94.80H956.0v1.35H947.3zM946.9 96.10H956.0v1.35H946.9zM946.7 97.40H956.0v1.35H946.7zM945.0 98.70H956.0v1.35H945.0zM945.1 100.00H956.0v1.35H945.1zM943.9 101.30H956.0v1.35H943.9zM943.9 102.60H956.0v1.35H943.9zM943.0 103.90H956.0v1.35H943.0zM941.8 105.20H956.0v1.35H941.8zM941.3 106.50H956.0v1.35H941.3zM941.1 107.80H956.0v1.35H941.1zM939.1 109.10H956.0v1.35H939.1zM937.1 110.40H956.0v1.35H937.1zM935.4 111.70H956.0v1.35H935.4zM932.7 113.00H956.0v1.35H932.7zM932.5 114.30H956.0v1.35H932.5zM927.5 115.60H956.0v1.35H927.5zM921.5 116.90H956.0v1.35H921.5zM919.2 118.20H956.0v1.35H919.2zM915.0 119.50H956.0v1.35H915.0zM911.5 120.80H956.0v1.35H911.5zM910.2 122.10H956.0v1.35H910.2zM908.2 123.40H956.0v1.35H908.2zM906.4 124.70H956.0v1.35H906.4zM902.3 126.00H956.0v1.35H902.3zM897.1 127.30H956.0v1.35H897.1zM892.2 128.60H956.0v1.35H892.2zM891.7 129.90H956.0v1.35H891.7zM889.8 131.20H956.0v1.35H889.8zM916.7 282.00H956.0v1.35H916.7zM914.3 283.30H956.0v1.35H914.3zM914.5 284.60H956.0v1.35H914.5zM910.6 285.90H956.0v1.35H910.6zM910.0 287.20H956.0v1.35H910.0zM910.3 288.50H956.0v1.35H910.3zM910.7 289.80H956.0v1.35H910.7zM911.2 291.10H956.0v1.35H911.2zM913.3 292.40H956.0v1.35H913.3zM913.4 293.70H956.0v1.35H913.4zM914.6 295.00H956.0v1.35H914.6zM917.2 296.30H956.0v1.35H917.2zM919.6 297.60H956.0v1.35H919.6zM923.5 298.90H956.0v1.35H923.5zM926.3 300.20H956.0v1.35H926.3zM927.8 301.50H956.0v1.35H927.8zM932.8 302.80H956.0v1.35H932.8zM936.7 304.10H956.0v1.35H936.7zM934.9 305.40H956.0v1.35H934.9zM934.3 306.70H956.0v1.35H934.3zM934.3 308.00H956.0v1.35H934.3zM933.0 309.30H956.0v1.35H933.0zM934.4 310.60H956.0v1.35H934.4zM934.3 311.90H956.0v1.35H934.3zM934.4 313.20H956.0v1.35H934.4zM935.0 314.50H956.0v1.35H935.0zM935.0 315.80H956.0v1.35H935.0zM936.3 317.10H956.0v1.35H936.3zM936.4 318.40H956.0v1.35H936.4zM938.1 319.70H956.0v1.35H938.1zM937.1 321.00H956.0v1.35H937.1zM937.2 322.30H956.0v1.35H937.2zM937.6 323.60H956.0v1.35H937.6zM936.7 324.90H956.0v1.35H936.7zM937.7 326.20H956.0v1.35H937.7zM939.9 327.50H956.0v1.35H939.9zM941.2 328.80H956.0v1.35H941.2zM938.7 330.10H956.0v1.35H938.7zM941.4 331.40H956.0v1.35H941.4zM942.1 332.70H956.0v1.35H942.1zM942.6 334.00H956.0v1.35H942.6zM943.5 335.30H956.0v1.35H943.5zM944.2 336.60H956.0v1.35H944.2zM943.3 337.90H956.0v1.35H943.3zM941.5 339.20H956.0v1.35H941.5zM942.4 340.50H956.0v1.35H942.4zM942.0 341.80H956.0v1.35H942.0zM941.6 343.10H956.0v1.35H941.6zM941.2 344.40H956.0v1.35H941.2zM940.2 345.70H956.0v1.35H940.2zM939.0 347.00H956.0v1.35H939.0zM938.1 348.30H956.0v1.35H938.1zM936.6 349.60H956.0v1.35H936.6zM932.1 350.90H956.0v1.35H932.1zM931.7 352.20H956.0v1.35H931.7zM930.6 353.50H956.0v1.35H930.6zM928.4 354.80H956.0v1.35H928.4zM927.0 356.10H956.0v1.35H927.0zM924.5 357.40H956.0v1.35H924.5zM923.8 358.70H956.0v1.35H923.8zM921.9 360.00H956.0v1.35H921.9zM925.1 361.30H956.0v1.35H925.1zM925.6 362.60H956.0v1.35H925.6zM928.5 363.90H956.0v1.35H928.5zM929.3 365.20H956.0v1.35H929.3zM929.8 366.50H956.0v1.35H929.8zM929.4 367.80H956.0v1.35H929.4zM930.3 369.10H956.0v1.35H930.3zM930.3 370.40H956.0v1.35H930.3zM930.8 371.70H956.0v1.35H930.8zM932.9 373.00H956.0v1.35H932.9zM930.5 374.30H956.0v1.35H930.5zM931.5 375.60H956.0v1.35H931.5zM932.8 376.90H956.0v1.35H932.8zM934.4 378.20H956.0v1.35H934.4zM936.6 379.50H956.0v1.35H936.6zM938.8 380.80H956.0v1.35H938.8zM941.4 382.10H956.0v1.35H941.4zM942.4 383.40H956.0v1.35H942.4zM943.3 384.70H956.0v1.35H943.3zM946.3 386.00H956.0v1.35H946.3zM944.0 387.30H956.0v1.35H944.0zM943.8 388.60H956.0v1.35H943.8zM944.3 389.90H956.0v1.35H944.3zM943.1 391.20H956.0v1.35H943.1zM940.7 392.50H956.0v1.35H940.7zM940.5 393.80H956.0v1.35H940.5zM939.0 395.10H956.0v1.35H939.0zM940.1 396.40H956.0v1.35H940.1zM939.1 397.70H956.0v1.35H939.1zM938.7 399.00H956.0v1.35H938.7zM940.1 400.30H956.0v1.35H940.1zM938.2 401.60H956.0v1.35H938.2zM938.3 402.90H956.0v1.35H938.3zM938.0 404.20H956.0v1.35H938.0zM936.9 405.50H956.0v1.35H936.9zM935.6 406.80H956.0v1.35H935.6zM935.9 408.10H956.0v1.35H935.9zM937.2 409.40H956.0v1.35H937.2zM938.4 410.70H956.0v1.35H938.4zM938.6 412.00H956.0v1.35H938.6zM940.3 413.30H956.0v1.35H940.3zM943.4 414.60H956.0v1.35H943.4zM946.6 415.90H956.0v1.35H946.6zM947.8 417.20H956.0v1.35H947.8zM949.8 418.50H956.0v1.35H949.8zM950.2 419.80H956.0v1.35H950.2zM950.6 421.10H956.0v1.35H950.6zM951.3 422.40H956.0v1.35H951.3zM951.8 423.70H956.0v1.35H951.8zM951.8 425.00H956.0v1.35H951.8zM952.4 426.30H956.0v1.35H952.4zM953.3 427.60H956.0v1.35H953.3zM953.8 428.90H956.0v1.35H953.8zM953.8 430.20H956.0v1.35H953.8zM953.7 431.50H956.0v1.35H953.7zM953.5 432.80H956.0v1.35H953.5zM953.8 434.10H956.0v1.35H953.8zM953.8 435.40H956.0v1.35H953.8zM953.7 436.70H956.0v1.35H953.7zM954.1 438.00H956.0v1.35H954.1zM954.0 439.30H956.0v1.35H954.0zM954.2 440.60H956.0v1.35H954.2zM954.1 441.90H956.0v1.35H954.1zM953.8 443.20H956.0v1.35H953.8zM953.6 444.50H956.0v1.35H953.6zM954.0 445.80H956.0v1.35H954.0zM953.8 447.10H956.0v1.35H953.8zM954.4 448.40H956.0v1.35H954.4zM953.3 449.70H956.0v1.35H953.3zM953.1 451.00H956.0v1.35H953.1zM951.7 452.30H956.0v1.35H951.7zM950.7 453.60H956.0v1.35H950.7zM949.0 454.90H956.0v1.35H949.0zM948.4 456.20H956.0v1.35H948.4zM945.5 457.50H956.0v1.35H945.5zM944.1 458.80H956.0v1.35H944.1zM942.6 460.10H956.0v1.35H942.6zM940.4 461.40H956.0v1.35H940.4zM938.8 462.70H956.0v1.35H938.8zM937.7 464.00H956.0v1.35H937.7zM935.9 465.30H956.0v1.35H935.9zM937.0 466.60H956.0v1.35H937.0zM937.7 467.90H956.0v1.35H937.7zM937.9 469.20H956.0v1.35H937.9zM939.8 470.50H956.0v1.35H939.8zM940.4 471.80H956.0v1.35H940.4zM940.6 473.10H956.0v1.35H940.6zM940.9 474.40H956.0v1.35H940.9zM941.4 475.70H956.0v1.35H941.4zM942.2 477.00H956.0v1.35H942.2zM944.6 478.30H956.0v1.35H944.6zM944.9 479.60H956.0v1.35H944.9zM947.2 480.90H956.0v1.35H947.2zM948.7 482.20H956.0v1.35H948.7zM949.6 483.50H956.0v1.35H949.6zM950.7 484.80H956.0v1.35H950.7zM951.8 486.10H956.0v1.35H951.8zM953.0 487.40H956.0v1.35H953.0zM953.9 488.70H956.0v1.35H953.9zM953.9 490.00H956.0v1.35H953.9zM953.3 491.30H956.0v1.35H953.3zM954.0 492.60H956.0v1.35H954.0zM954.2 493.90H956.0v1.35H954.2zM953.9 495.20H956.0v1.35H953.9zM953.4 496.50H956.0v1.35H953.4zM953.4 497.80H956.0v1.35H953.4zM953.6 499.10H956.0v1.35H953.6z"/>
<rect x="0" y="231.2" width="956" height="1.8" fill="#d0d07e"/>
<path fill="#fbc02d" d="M825.4 132.50H893.7v1.35H825.4zM826.9 133.80H895.7v1.35H826.9zM832.0 135.10H907.3v1.35H832.0zM836.2 136.40H902.1v1.35H836.2zM836.4 137.70H904.6v1.35H836.4zM844.5 139.00H906.2v1.35H844.5zM841.0 140.30H908.7v1.35H841.0zM842.3 141.60H910.0v1.35H842.3zM842.6 142.90H905.7v1.35H842.6zM847.1 144.20H908.5v1.35H847.1zM848.5 145.50H905.9v1.35H848.5zM844.6 146.80H904.4v1.35H844.6zM849.0 148.10H906.7v1.35H849.0zM853.4 149.40H909.0v1.35H853.4zM855.7 150.70H911.7v1.35H855.7zM856.4 152.00H913.6v1.35H856.4zM861.3 153.30H916.8v1.35H861.3zM862.6 154.60H916.8v1.35H862.6zM856.9 155.90H919.5v1.35H856.9zM854.2 157.20H914.0v1.35H854.2zM842.0 158.50H906.7v1.35H842.0zM835.7 159.80H903.4v1.35H835.7zM835.0 161.10H899.2v1.35H835.0zM825.5 162.40H891.3v1.35H825.5zM827.3 163.70H892.7v1.35H827.3zM814.6 165.00H890.0v1.35H814.6zM807.9 166.30H893.2v1.35H807.9zM807.4 167.60H885.7v1.35H807.4zM798.8 168.90H879.1v1.35H798.8zM793.2 170.20H878.3v1.35H793.2zM794.1 171.50H876.3v1.35H794.1zM790.8 172.80H881.4v1.35H790.8zM798.3 174.10H877.4v1.35H798.3zM801.1 175.40H885.5v1.35H801.1zM816.2 176.70H886.7v1.35H816.2zM821.8 178.00H890.9v1.35H821.8zM829.4 179.30H894.4v1.35H829.4zM842.7 180.60H900.3v1.35H842.7zM849.6 181.90H902.3v1.35H849.6zM849.9 183.20H904.1v1.35H849.9zM844.0 184.50H902.2v1.35H844.0zM828.5 185.80H902.0v1.35H828.5zM825.3 187.10H899.6v1.35H825.3zM814.8 188.40H895.9v1.35H814.8zM802.9 189.70H893.4v1.35H802.9zM800.0 191.00H889.5v1.35H800.0zM793.4 192.30H887.1v1.35H793.4zM795.6 193.60H888.6v1.35H795.6zM793.1 194.90H889.5v1.35H793.1zM793.1 196.20H886.7v1.35H793.1zM794.2 197.50H884.4v1.35H794.2zM788.8 198.80H888.9v1.35H788.8zM797.8 200.10H891.6v1.35H797.8zM806.2 201.40H892.8v1.35H806.2zM812.7 202.70H889.2v1.35H812.7zM817.4 204.00H893.7v1.35H817.4zM819.0 205.30H896.2v1.35H819.0zM832.6 206.60H901.1v1.35H832.6zM838.8 207.90H898.8v1.35H838.8zM831.0 209.20H897.6v1.35H831.0zM824.3 210.50H900.0v1.35H824.3zM817.6 211.80H895.5v1.35H817.6zM814.5 213.10H892.6v1.35H814.5zM806.7 214.40H883.1v1.35H806.7zM801.6 215.70H882.1v1.35H801.6zM800.6 217.00H875.1v1.35H800.6zM793.6 218.30H871.8v1.35H793.6zM787.1 219.60H867.9v1.35H787.1zM779.4 220.90H862.7v1.35H779.4zM772.3 222.20H865.4v1.35H772.3zM768.4 223.50H860.2v1.35H768.4zM763.4 224.80H857.4v1.35H763.4zM761.4 226.10H853.4v1.35H761.4zM757.0 227.40H853.1v1.35H757.0zM747.9 228.70H850.0v1.35H747.9zM734.8 230.00H849.1v1.35H734.8zM736.0 231.30H847.1v1.35H736.0zM740.9 232.60H851.3v1.35H740.9zM755.0 233.90H855.0v1.35H755.0zM764.7 235.20H858.7v1.35H764.7zM765.3 236.50H861.3v1.35H765.3zM769.7 237.80H868.9v1.35H769.7zM774.3 239.10H871.1v1.35H774.3zM777.2 240.40H876.6v1.35H777.2zM781.6 241.70H885.4v1.35H781.6zM790.9 243.00H886.7v1.35H790.9zM799.7 244.30H888.3v1.35H799.7zM804.5 245.60H893.1v1.35H804.5zM805.9 246.90H890.9v1.35H805.9zM813.3 248.20H897.0v1.35H813.3zM823.1 249.50H894.6v1.35H823.1zM827.2 250.80H896.9v1.35H827.2zM828.5 252.10H896.6v1.35H828.5zM832.9 253.40H894.5v1.35H832.9zM834.6 254.70H895.9v1.35H834.6zM840.8 256.00H902.3v1.35H840.8zM847.2 257.30H898.9v1.35H847.2zM838.7 258.60H898.9v1.35H838.7zM841.6 259.90H902.4v1.35H841.6zM846.2 261.20H896.8v1.35H846.2zM844.5 262.50H898.7v1.35H844.5zM831.5 263.80H897.3v1.35H831.5zM827.1 265.10H897.9v1.35H827.1zM820.2 266.40H896.3v1.35H820.2zM812.9 267.70H894.9v1.35H812.9zM806.1 269.00H897.8v1.35H806.1zM804.6 270.30H895.2v1.35H804.6zM801.5 271.60H894.6v1.35H801.5zM813.7 272.90H894.3v1.35H813.7zM821.2 274.20H897.6v1.35H821.2zM829.1 275.50H899.8v1.35H829.1zM838.3 276.80H903.9v1.35H838.3zM845.3 278.10H906.2v1.35H845.3zM851.2 279.40H903.2v1.35H851.2zM861.2 280.70H904.4v1.35H861.2z"/><path fill="#8c6c22" d="M952.8 61.00H954.3v1.35H952.8zM952.5 63.60H953.8v1.35H952.5zM954.0 64.90H954.6v1.35H954.0zM952.3 66.20H952.8v1.35H952.3zM953.9 67.50H954.0v1.35H953.9zM952.9 70.10H953.4v1.35H952.9zM951.8 72.70H952.5v1.35H951.8zM952.4 74.00H953.2v1.35H952.4zM951.8 75.30H953.0v1.35H951.8zM952.1 76.60H953.4v1.35H952.1zM952.7 77.90H952.9v1.35H952.7zM949.8 79.20H953.1v1.35H949.8zM949.6 80.50H952.2v1.35H949.6zM949.1 81.80H952.1v1.35H949.1zM949.3 83.10H952.0v1.35H949.3zM949.6 85.70H950.3v1.35H949.6zM947.7 87.00H951.3v1.35H947.7zM947.0 88.30H950.6v1.35H947.0zM946.3 89.60H949.1v1.35H946.3zM945.8 90.90H948.7v1.35H945.8zM946.1 92.20H948.5v1.35H946.1zM944.2 93.50H948.3v1.35H944.2zM943.5 94.80H947.3v1.35H943.5zM942.6 96.10H946.9v1.35H942.6zM941.8 97.40H946.7v1.35H941.8zM939.9 98.70H945.0v1.35H939.9zM939.5 100.00H945.1v1.35H939.5zM938.8 101.30H943.9v1.35H938.8zM936.2 102.60H943.9v1.35H936.2zM934.4 103.90H943.0v1.35H934.4zM932.7 105.20H941.8v1.35H932.7zM930.1 106.50H941.3v1.35H930.1zM927.6 107.80H941.1v1.35H927.6zM923.7 109.10H939.1v1.35H923.7zM919.2 110.40H937.1v1.35H919.2zM913.8 111.70H935.4v1.35H913.8zM908.5 113.00H932.7v1.35H908.5zM899.6 114.30H932.5v1.35H899.6zM894.8 115.60H927.5v1.35H894.8zM889.7 116.90H921.5v1.35H889.7zM885.5 118.20H919.2v1.35H885.5zM877.7 119.50H915.0v1.35H877.7zM871.8 120.80H911.5v1.35H871.8zM865.7 122.10H910.2v1.35H865.7zM860.9 123.40H908.2v1.35H860.9zM854.1 124.70H906.4v1.35H854.1zM846.7 126.00H902.3v1.35H846.7zM841.4 127.30H897.1v1.35H841.4zM831.7 128.60H892.2v1.35H831.7zM829.8 129.90H891.7v1.35H829.8zM828.0 131.20H889.8v1.35H828.0zM871.7 282.00H916.7v1.35H871.7zM872.9 283.30H914.3v1.35H872.9zM871.4 284.60H914.5v1.35H871.4zM871.2 285.90H910.6v1.35H871.2zM870.1 287.20H910.0v1.35H870.1zM870.8 288.50H910.3v1.35H870.8zM872.9 289.80H910.7v1.35H872.9zM875.9 291.10H911.2v1.35H875.9zM876.4 292.40H913.3v1.35H876.4zM879.7 293.70H913.4v1.35H879.7zM883.5 295.00H914.6v1.35H883.5zM886.8 296.30H917.2v1.35H886.8zM893.8 297.60H919.6v1.35H893.8zM895.8 298.90H923.5v1.35H895.8zM901.0 300.20H926.3v1.35H901.0zM905.8 301.50H927.8v1.35H905.8zM908.9 302.80H932.8v1.35H908.9zM914.2 304.10H936.7v1.35H914.2zM913.5 305.40H934.9v1.35H913.5zM912.5 306.70H934.3v1.35H912.5zM912.0 308.00H934.3v1.35H912.0zM912.2 309.30H933.0v1.35H912.2zM913.1 310.60H934.4v1.35H913.1zM916.3 311.90H934.3v1.35H916.3zM917.2 313.20H934.4v1.35H917.2zM917.8 314.50H935.0v1.35H917.8zM918.2 315.80H935.0v1.35H918.2zM919.8 317.10H936.3v1.35H919.8zM921.3 318.40H936.4v1.35H921.3zM923.5 319.70H938.1v1.35H923.5zM923.7 321.00H937.1v1.35H923.7zM926.5 322.30H937.2v1.35H926.5zM927.4 323.60H937.6v1.35H927.4zM928.2 324.90H936.7v1.35H928.2zM930.0 326.20H937.7v1.35H930.0zM929.2 327.50H939.9v1.35H929.2zM931.3 328.80H941.2v1.35H931.3zM931.6 330.10H938.7v1.35H931.6zM931.0 331.40H941.4v1.35H931.0zM930.2 332.70H942.1v1.35H930.2zM930.0 334.00H942.6v1.35H930.0zM929.1 335.30H943.5v1.35H929.1zM927.4 336.60H944.2v1.35H927.4zM928.7 337.90H943.3v1.35H928.7zM926.9 339.20H941.5v1.35H926.9zM928.6 340.50H942.4v1.35H928.6zM927.0 341.80H942.0v1.35H927.0zM927.5 343.10H941.6v1.35H927.5zM927.5 344.40H941.2v1.35H927.5zM925.0 345.70H940.2v1.35H925.0zM921.2 347.00H939.0v1.35H921.2zM919.1 348.30H938.1v1.35H919.1zM915.9 349.60H936.6v1.35H915.9zM913.3 350.90H932.1v1.35H913.3zM908.3 352.20H931.7v1.35H908.3zM906.1 353.50H930.6v1.35H906.1zM898.6 354.80H928.4v1.35H898.6zM895.6 356.10H927.0v1.35H895.6zM891.3 357.40H924.5v1.35H891.3zM891.5 358.70H923.8v1.35H891.5zM890.4 360.00H921.9v1.35H890.4zM893.5 361.30H925.1v1.35H893.5zM896.2 362.60H925.6v1.35H896.2zM899.4 363.90H928.5v1.35H899.4zM901.6 365.20H929.3v1.35H901.6zM905.6 366.50H929.8v1.35H905.6zM904.9 367.80H929.4v1.35H904.9zM905.6 369.10H930.3v1.35H905.6zM906.2 370.40H930.3v1.35H906.2zM909.7 371.70H930.8v1.35H909.7zM909.3 373.00H932.9v1.35H909.3zM910.7 374.30H930.5v1.35H910.7zM912.4 375.60H931.5v1.35H912.4zM916.3 376.90H932.8v1.35H916.3zM917.4 378.20H934.4v1.35H917.4zM921.1 379.50H936.6v1.35H921.1zM923.8 380.80H938.8v1.35H923.8zM925.8 382.10H941.4v1.35H925.8zM929.8 383.40H942.4v1.35H929.8zM930.6 384.70H943.3v1.35H930.6zM932.5 386.00H946.3v1.35H932.5zM931.9 387.30H944.0v1.35H931.9zM931.7 388.60H943.8v1.35H931.7zM931.4 389.90H944.3v1.35H931.4zM933.1 391.20H943.1v1.35H933.1zM930.9 392.50H940.7v1.35H930.9zM931.2 393.80H940.5v1.35H931.2zM929.2 395.10H939.0v1.35H929.2zM929.4 396.40H940.1v1.35H929.4zM929.1 397.70H939.1v1.35H929.1zM927.4 399.00H938.7v1.35H927.4zM927.2 400.30H940.1v1.35H927.2zM925.7 401.60H938.2v1.35H925.7zM927.4 402.90H938.3v1.35H927.4zM926.4 404.20H938.0v1.35H926.4zM923.6 405.50H936.9v1.35H923.6zM920.5 406.80H935.6v1.35H920.5zM922.1 408.10H935.9v1.35H922.1zM923.2 409.40H937.2v1.35H923.2zM925.9 410.70H938.4v1.35H925.9zM928.0 412.00H938.6v1.35H928.0zM932.2 413.30H940.3v1.35H932.2zM934.7 414.60H943.4v1.35H934.7zM938.8 415.90H946.6v1.35H938.8zM941.1 417.20H947.8v1.35H941.1zM942.7 418.50H949.8v1.35H942.7zM944.3 419.80H950.2v1.35H944.3zM945.7 421.10H950.6v1.35H945.7zM947.4 422.40H951.3v1.35H947.4zM948.4 423.70H951.8v1.35H948.4zM951.0 425.00H951.8v1.35H951.0zM953.1 428.90H953.8v1.35H953.1zM952.9 431.50H953.7v1.35H952.9zM953.8 435.40H953.8v1.35H953.8zM953.6 436.70H953.7v1.35H953.6zM954.0 438.00H954.1v1.35H954.0zM953.8 439.30H954.0v1.35H953.8zM953.4 440.60H954.2v1.35H953.4zM953.7 441.90H954.1v1.35H953.7zM953.6 443.20H953.8v1.35H953.6zM952.7 451.00H953.1v1.35H952.7zM950.1 453.60H950.7v1.35H950.1zM948.1 454.90H949.0v1.35H948.1zM945.5 456.20H948.4v1.35H945.5zM943.7 457.50H945.5v1.35H943.7zM941.1 458.80H944.1v1.35H941.1zM939.1 460.10H942.6v1.35H939.1zM937.2 461.40H940.4v1.35H937.2zM935.2 462.70H938.8v1.35H935.2zM933.2 464.00H937.7v1.35H933.2zM929.6 465.30H935.9v1.35H929.6zM928.7 466.60H937.0v1.35H928.7zM928.1 467.90H937.7v1.35H928.1zM928.7 469.20H937.9v1.35H928.7zM930.4 470.50H939.8v1.35H930.4zM931.6 471.80H940.4v1.35H931.6zM930.1 473.10H940.6v1.35H930.1zM928.6 474.40H940.9v1.35H928.6zM930.0 475.70H941.4v1.35H930.0zM931.1 477.00H942.2v1.35H931.1zM933.9 478.30H944.6v1.35H933.9zM937.5 479.60H944.9v1.35H937.5zM940.5 480.90H947.2v1.35H940.5zM943.5 482.20H948.7v1.35H943.5zM944.9 483.50H949.6v1.35H944.9zM946.2 484.80H950.7v1.35H946.2zM948.5 486.10H951.8v1.35H948.5zM950.0 487.40H953.0v1.35H950.0zM950.1 488.70H953.9v1.35H950.1zM950.3 490.00H953.9v1.35H950.3zM950.2 491.30H953.3v1.35H950.2zM950.6 492.60H954.0v1.35H950.6zM950.2 493.90H954.2v1.35H950.2zM950.2 495.20H953.9v1.35H950.2zM949.9 496.50H953.4v1.35H949.9zM951.1 497.80H953.4v1.35H951.1zM950.8 499.10H953.6v1.35H950.8z"/>
<line x1="0" y1="206.5" x2="956" y2="206.5" stroke="#a85868" stroke-width="1" stroke-dasharray="1 1.8" opacity="0.55"/>
<line x1="72" y1="60.3" x2="840" y2="261.5" stroke="#f0f0f0" stroke-width="1.6" stroke-linecap="round"/>
<g transform="translate(6 480.5) scale(0.546)" fill="#ffffff"><path d="M14 22H7V11H0V4h14v18zM28 22h-8l7.5-18h8L28 22z"/><circle cx="20" cy="8" r="4"/></g>
<g transform="translate(710 493)">
<circle r="6.7" fill="none" stroke="#c8394c" stroke-width="2"/>
<circle r="4.9" fill="#f2eef0"/>
<clipPath id="fc"><circle r="4.9"/></clipPath>
<g clip-path="url(#fc)">
<rect x="-5" y="-1.2" width="10" height="1.3" fill="#d8525e"/>
<rect x="-5" y="1.4" width="10" height="1.0" fill="#f0c8cc"/>
<rect x="-5" y="3.2" width="10" height="2" fill="#d8525e"/>
<rect x="-5" y="-5" width="5.2" height="4.6" fill="#4f93f2"/>
</g>
</g>
<circle cx="128.5" cy="8" r="4.2" fill="#0d3a33"/>
<circle cx="128.5" cy="8" r="2.4" fill="#22b38a"/>
<rect x="4.5" y="18.5" width="34" height="15" rx="2" fill="none" stroke="#a3304a" stroke-width="1"/>
<rect x="58.5" y="18.5" width="34" height="15" rx="2" fill="none" stroke="#2c45c6" stroke-width="1"/>
<rect x="5" y="38" width="19.5" height="13.5" rx="2" fill="none" stroke="#262a35" stroke-width="1"/>
<path d="M8.6 42.6L11 45.1L13.4 42.6" fill="none" stroke="#d1d4dc" stroke-width="1.1"/>
<path d="M976.6 5.3L978.6 6.8L980.6 5.3" fill="none" stroke="#b2b5be" stroke-width="0.9"/>
<g transform="translate(977.8 510.8)" fill="none" stroke="#868992"><circle r="3.2" stroke-width="1.4"/><circle r="4.3" stroke-width="1.6" stroke-dasharray="1.9 2.6" stroke-dashoffset="1"/></g>
<text x="962.2" y="38.9" font-size="8.6" fill="#c3c6ce" textLength="22.8" lengthAdjust="spacingAndGlyphs" >31.000</text><text x="962.2" y="66.55" font-size="8.6" fill="#c3c6ce" textLength="22.8" lengthAdjust="spacingAndGlyphs" >30.000</text><text x="962.2" y="94.2" font-size="8.6" fill="#c3c6ce" textLength="22.8" lengthAdjust="spacingAndGlyphs" >29.000</text><text x="962.2" y="121.85" font-size="8.6" fill="#c3c6ce" textLength="22.8" lengthAdjust="spacingAndGlyphs" >28.000</text><text x="962.2" y="149.5" font-size="8.6" fill="#c3c6ce" textLength="22.8" lengthAdjust="spacingAndGlyphs" >27.000</text><text x="962.2" y="177.15" font-size="8.6" fill="#c3c6ce" textLength="22.8" lengthAdjust="spacingAndGlyphs" >26.000</text><text x="962.2" y="204.8" font-size="8.6" fill="#c3c6ce" textLength="22.8" lengthAdjust="spacingAndGlyphs" >25.000</text><text x="962.2" y="260.1" font-size="8.6" fill="#c3c6ce" textLength="22.8" lengthAdjust="spacingAndGlyphs" >23.000</text><text x="962.2" y="287.75" font-size="8.6" fill="#c3c6ce" textLength="22.8" lengthAdjust="spacingAndGlyphs" >22.000</text><text x="962.2" y="315.4" font-size="8.6" fill="#c3c6ce" textLength="22.8" lengthAdjust="spacingAndGlyphs" >21.000</text><text x="962.2" y="343.05" font-size="8.6" fill="#c3c6ce" textLength="22.8" lengthAdjust="spacingAndGlyphs" >20.000</text><text x="962.2" y="370.7" font-size="8.6" fill="#c3c6ce" textLength="22.8" lengthAdjust="spacingAndGlyphs" >19.000</text><text x="962.2" y="398.35" font-size="8.6" fill="#c3c6ce" textLength="22.8" lengthAdjust="spacingAndGlyphs" >18.000</text><text x="962.2" y="426.0" font-size="8.6" fill="#c3c6ce" textLength="22.8" lengthAdjust="spacingAndGlyphs" >17.000</text><text x="962.2" y="453.65" font-size="8.6" fill="#c3c6ce" textLength="22.8" lengthAdjust="spacingAndGlyphs" >16.000</text><text x="962.2" y="481.3" font-size="8.6" fill="#c3c6ce" textLength="22.8" lengthAdjust="spacingAndGlyphs" >15.000</text><text x="-6.75" y="512.7" font-size="9.2" fill="#b8bbc3" textLength="12.5" lengthAdjust="spacingAndGlyphs" stroke="#b8bbc3" stroke-width="0.15">Apr</text><text x="53.2" y="512.7" font-size="9.2" fill="#b8bbc3" textLength="9.8" lengthAdjust="spacingAndGlyphs" stroke="#b8bbc3" stroke-width="0.15">Jul</text><text x="111.8" y="512.7" font-size="9.2" fill="#b8bbc3" textLength="12" lengthAdjust="spacingAndGlyphs" stroke="#b8bbc3" stroke-width="0.15">Oct</text><text x="168.05" y="512.7" font-size="9.2" fill="#d1d4dc" textLength="17.5" lengthAdjust="spacingAndGlyphs" font-weight="bold" >2021</text><text x="228.05" y="512.7" font-size="9.2" fill="#b8bbc3" textLength="12.5" lengthAdjust="spacingAndGlyphs" stroke="#b8bbc3" stroke-width="0.15">Apr</text><text x="288.8" y="512.7" font-size="9.2" fill="#b8bbc3" textLength="9.8" lengthAdjust="spacingAndGlyphs" stroke="#b8bbc3" stroke-width="0.15">Jul</text><text x="347.5" y="512.7" font-size="9.2" fill="#b8bbc3" textLength="12" lengthAdjust="spacingAndGlyphs" stroke="#b8bbc3" stroke-width="0.15">Oct</text><text x="404.75" y="512.7" font-size="9.2" fill="#d1d4dc" textLength="17.5" lengthAdjust="spacingAndGlyphs" font-weight="bold" >2022</text><text x="465.55" y="512.7" font-size="9.2" fill="#b8bbc3" textLength="12.5" lengthAdjust="spacingAndGlyphs" stroke="#b8bbc3" stroke-width="0.15">Apr</text><text x="526.1" y="512.7" font-size="9.2" fill="#b8bbc3" textLength="9.8" lengthAdjust="spacingAndGlyphs" stroke="#b8bbc3" stroke-width="0.15">Jul</text><text x="584.75" y="512.7" font-size="9.2" fill="#b8bbc3" textLength="12" lengthAdjust="spacingAndGlyphs" stroke="#b8bbc3" stroke-width="0.15">Oct</text><text x="640.25" y="512.7" font-size="9.2" fill="#d1d4dc" textLength="17.5" lengthAdjust="spacingAndGlyphs" font-weight="bold" >2023</text><text x="701.25" y="512.7" font-size="9.2" fill="#b8bbc3" textLength="12.5" lengthAdjust="spacingAndGlyphs" stroke="#b8bbc3" stroke-width="0.15">Apr</text><text x="761.35" y="512.7" font-size="9.2" fill="#b8bbc3" textLength="9.8" lengthAdjust="spacingAndGlyphs" stroke="#b8bbc3" stroke-width="0.15">Jul</text><text x="819.25" y="512.7" font-size="9.2" fill="#b8bbc3" textLength="12" lengthAdjust="spacingAndGlyphs" stroke="#b8bbc3" stroke-width="0.15">Oct</text><text x="876.0" y="512.7" font-size="9.2" fill="#d1d4dc" textLength="17.5" lengthAdjust="spacingAndGlyphs" font-weight="bold" >2024</text><text x="937.5" y="512.7" font-size="9.2" fill="#b8bbc3" textLength="12.5" lengthAdjust="spacingAndGlyphs" stroke="#b8bbc3" stroke-width="0.15">Apr</text><text x="4.4" y="12.0" font-size="9.9" fill="#d1d4dc" textLength="25.4" lengthAdjust="spacingAndGlyphs" stroke="#d1d4dc" stroke-width="0.3">Silver</text><text x="33.7" y="12.0" font-size="9.9" fill="#d1d4dc" textLength="4.0" lengthAdjust="spacingAndGlyphs" stroke="#d1d4dc" stroke-width="0.3">/</text><text x="42.1" y="12.0" font-size="9.9" fill="#d1d4dc" textLength="17.6" lengthAdjust="spacingAndGlyphs" stroke="#d1d4dc" stroke-width="0.3">U.S.</text><text x="64.2" y="12.0" font-size="9.9" fill="#d1d4dc" textLength="26.5" lengthAdjust="spacingAndGlyphs" stroke="#d1d4dc" stroke-width="0.3">Dollar</text><text x="99" y="12.0" font-size="9.9" fill="#d1d4dc" textLength="10.9" lengthAdjust="spacingAndGlyphs" stroke="#d1d4dc" stroke-width="0.3">FX</text><text x="94.9" y="12.0" font-size="9.9" fill="#d1d4dc" text-anchor="middle" stroke="#d1d4dc" stroke-width="0.5">·</text><text x="144.5" y="12" font-size="8.2" fill="#d1d4dc" textLength="6.0" lengthAdjust="spacingAndGlyphs" font-weight="bold" >O</text><text x="152" y="12" font-size="8.2" fill="#e0475a" textLength="23.2" lengthAdjust="spacingAndGlyphs" >24.982</text><text x="179.9" y="12" font-size="8.2" fill="#d1d4dc" textLength="5.1" lengthAdjust="spacingAndGlyphs" font-weight="bold" >H</text><text x="185.5" y="12" font-size="8.2" fill="#e0475a" textLength="24.5" lengthAdjust="spacingAndGlyphs" >25.120</text><text x="215" y="12" font-size="8.2" fill="#d1d4dc" textLength="4.3" lengthAdjust="spacingAndGlyphs" font-weight="bold" >L</text><text x="219.6" y="12" font-size="8.2" fill="#e0475a" textLength="23.7" lengthAdjust="spacingAndGlyphs" >24.700</text><text x="248.2" y="12" font-size="8.2" fill="#d1d4dc" textLength="5.4" lengthAdjust="spacingAndGlyphs" font-weight="bold" >C</text><text x="254" y="12" font-size="8.2" fill="#e0475a" textLength="24.3" lengthAdjust="spacingAndGlyphs" >24.819</text><text x="283.6" y="12" font-size="8.2" fill="#e0475a" textLength="23.6" lengthAdjust="spacingAndGlyphs" >−0.163</text><text x="310.7" y="12" font-size="8.2" fill="#e0475a" textLength="30.7" lengthAdjust="spacingAndGlyphs" >(−0.65%)</text><text x="9.6" y="29.6" font-size="8.7" fill="#e0475a" textLength="19.6" lengthAdjust="spacingAndGlyphs" >24.82</text><text x="29.7" y="27.6" font-size="6.8" fill="#e0475a" textLength="3.8" lengthAdjust="spacingAndGlyphs" >0</text><text x="43" y="29.6" font-size="8.5" fill="#d1d4dc" textLength="10" lengthAdjust="spacingAndGlyphs" stroke="#d1d4dc" stroke-width="0.2">3.3</text><text x="63.6" y="29.6" font-size="8.7" fill="#4a62f0" textLength="19.8" lengthAdjust="spacingAndGlyphs" >24.85</text><text x="83.8" y="27.6" font-size="6.8" fill="#4a62f0" textLength="3.8" lengthAdjust="spacingAndGlyphs" >3</text><text x="17" y="47.5" font-size="8.7" fill="#d1d4dc" stroke="#d1d4dc" stroke-width="0.2">5</text><text x="962" y="9.2" font-size="8.4" fill="#c3c6ce" textLength="12.8" lengthAdjust="spacingAndGlyphs" >USD</text><rect x="920.5" y="201.3" width="34.6" height="10.4" fill="#f0525a"/><text x="924" y="209.3" font-size="7.6" fill="#ffffff" textLength="27" lengthAdjust="spacingAndGlyphs" stroke="#ffffff" stroke-width="0.2">XAGUSD</text><path d="M956 201.3h38.5a2 2 0 0 1 2 2v15.7a2 2 0 0 1-2 2H956z" fill="#f0525a"/><text x="962.3" y="209.6" font-size="8.4" fill="#ffffff" textLength="22.5" lengthAdjust="spacingAndGlyphs" stroke="#ffffff" stroke-width="0.2">24.819</text><text x="962.3" y="218.5" font-size="8.4" fill="#ffffff" textLength="30" lengthAdjust="spacingAndGlyphs" stroke="#ffffff" stroke-width="0.15">07:34:16</text><path d="M956 227.1h31a2 2 0 0 1 2 2v6.4a2 2 0 0 1-2 2H956z" fill="#f5e431"/><text x="962.3" y="235.1" font-size="8.4" fill="#131722" textLength="22.5" lengthAdjust="spacingAndGlyphs" stroke="#131722" stroke-width="0.15">23.893</text>
</svg>
</body></html>
